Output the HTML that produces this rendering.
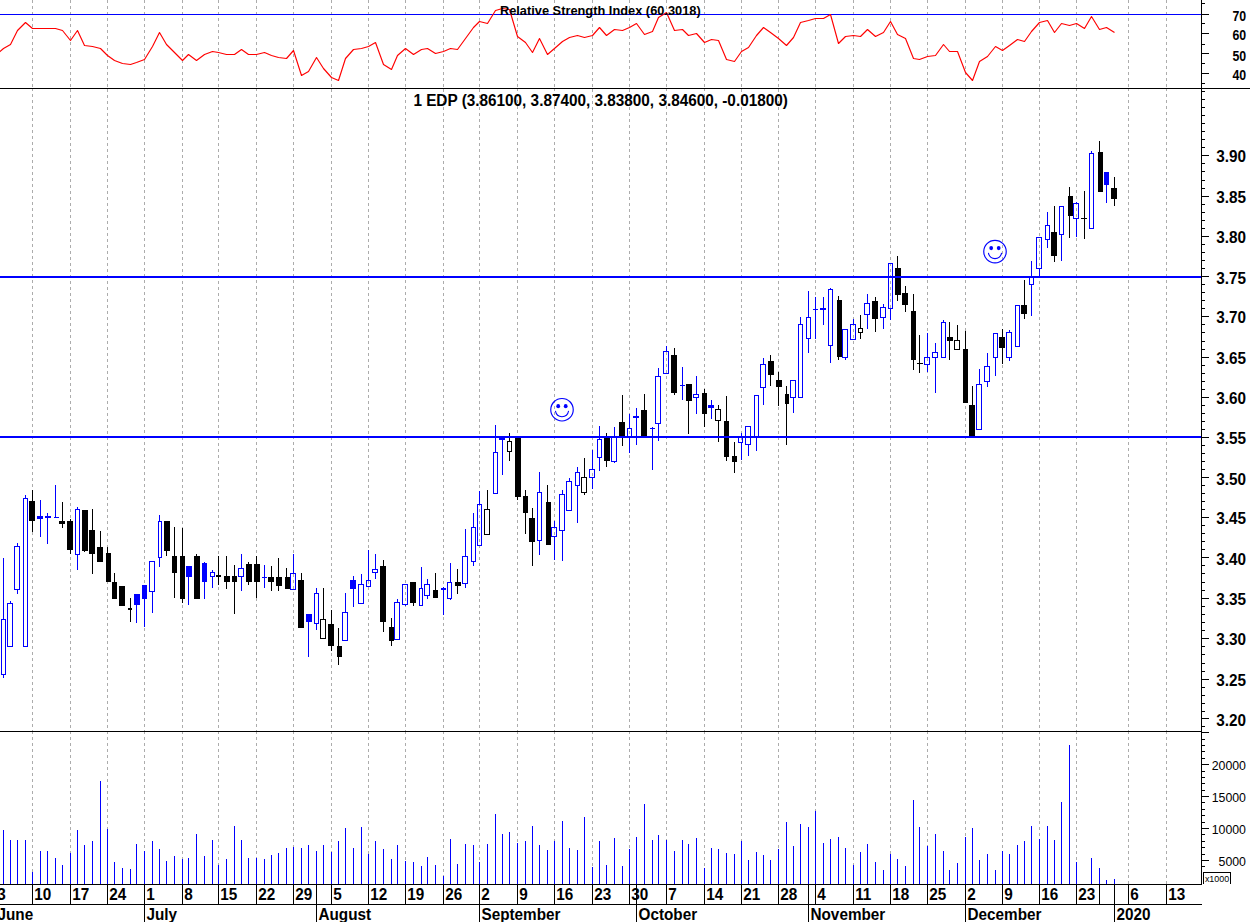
<!DOCTYPE html>
<html><head><meta charset="utf-8"><title>EDP chart</title>
<style>
html,body{margin:0;padding:0;background:#fff;}
body{width:1250px;height:922px;overflow:hidden;}
svg{display:block;font-family:"Liberation Sans",sans-serif;}
text{fill:#000;}
</style></head><body>
<svg width="1250" height="922" viewBox="0 0 1250 922">
<rect x="0" y="0" width="1250" height="922" fill="#ffffff"/>
<g shape-rendering="crispEdges">
<path d="M32.5 0V3M32.5 6V9M32.5 12V15M32.5 18V21M32.5 24V27M32.5 30V33M32.5 36V39M32.5 42V45M32.5 48V51M32.5 54V57M32.5 60V63M32.5 66V69M32.5 72V75M32.5 78V81M32.5 84V87M32.5 89V91M32.5 94V97M32.5 100V103M32.5 106V109M32.5 112V115M32.5 118V121M32.5 124V127M32.5 130V133M32.5 136V139M32.5 142V145M32.5 148V151M32.5 154V157M32.5 160V163M32.5 166V169M32.5 172V175M32.5 178V181M32.5 184V187M32.5 190V193M32.5 196V199M32.5 202V205M32.5 208V211M32.5 214V217M32.5 220V223M32.5 226V229M32.5 232V235M32.5 238V241M32.5 244V247M32.5 250V253M32.5 256V259M32.5 262V265M32.5 268V271M32.5 274V277M32.5 280V283M32.5 286V289M32.5 292V295M32.5 298V301M32.5 304V307M32.5 310V313M32.5 316V319M32.5 322V325M32.5 328V331M32.5 334V337M32.5 340V343M32.5 346V349M32.5 352V355M32.5 358V361M32.5 364V367M32.5 370V373M32.5 376V379M32.5 382V385M32.5 388V391M32.5 394V397M32.5 400V403M32.5 406V409M32.5 412V415M32.5 418V421M32.5 424V427M32.5 430V433M32.5 436V439M32.5 442V445M32.5 448V451M32.5 454V457M32.5 460V463M32.5 466V469M32.5 472V475M32.5 478V481M32.5 484V487M32.5 490V493M32.5 496V499M32.5 502V505M32.5 508V511M32.5 514V517M32.5 520V523M32.5 526V529M32.5 532V535M32.5 538V541M32.5 544V547M32.5 550V553M32.5 556V559M32.5 562V565M32.5 568V571M32.5 574V577M32.5 580V583M32.5 586V589M32.5 592V595M32.5 598V601M32.5 604V607M32.5 610V613M32.5 616V619M32.5 622V625M32.5 628V631M32.5 634V637M32.5 640V643M32.5 646V649M32.5 652V655M32.5 658V661M32.5 664V667M32.5 670V673M32.5 676V679M32.5 682V685M32.5 688V691M32.5 694V697M32.5 700V703M32.5 706V709M32.5 712V715M32.5 718V721M32.5 724V727M32.5 730V731M32.5 732V734M32.5 737V740M32.5 743V746M32.5 749V752M32.5 755V758M32.5 761V764M32.5 767V770M32.5 773V776M32.5 779V782M32.5 785V788M32.5 791V794M32.5 797V800M32.5 803V806M32.5 809V812M32.5 815V818M32.5 821V824M32.5 827V830M32.5 833V836M32.5 839V842M32.5 845V848M32.5 851V854M32.5 857V860M32.5 863V866M32.5 869V872M32.5 875V878M32.5 881V884M70.5 0V3M70.5 6V9M70.5 12V15M70.5 18V21M70.5 24V27M70.5 30V33M70.5 36V39M70.5 42V45M70.5 48V51M70.5 54V57M70.5 60V63M70.5 66V69M70.5 72V75M70.5 78V81M70.5 84V87M70.5 89V92M70.5 95V98M70.5 101V104M70.5 107V110M70.5 113V116M70.5 119V122M70.5 125V128M70.5 131V134M70.5 137V140M70.5 143V146M70.5 149V152M70.5 155V158M70.5 161V164M70.5 167V170M70.5 173V176M70.5 179V182M70.5 185V188M70.5 191V194M70.5 197V200M70.5 203V206M70.5 209V212M70.5 215V218M70.5 221V224M70.5 227V230M70.5 233V236M70.5 239V242M70.5 245V248M70.5 251V254M70.5 257V260M70.5 263V266M70.5 269V272M70.5 275V278M70.5 281V284M70.5 287V290M70.5 293V296M70.5 299V302M70.5 305V308M70.5 311V314M70.5 317V320M70.5 323V326M70.5 329V332M70.5 335V338M70.5 341V344M70.5 347V350M70.5 353V356M70.5 359V362M70.5 365V368M70.5 371V374M70.5 377V380M70.5 383V386M70.5 389V392M70.5 395V398M70.5 401V404M70.5 407V410M70.5 413V416M70.5 419V422M70.5 425V428M70.5 431V434M70.5 437V440M70.5 443V446M70.5 449V452M70.5 455V458M70.5 461V464M70.5 467V470M70.5 473V476M70.5 479V482M70.5 485V488M70.5 491V494M70.5 497V500M70.5 503V506M70.5 509V512M70.5 515V518M70.5 521V524M70.5 527V530M70.5 533V536M70.5 539V542M70.5 545V548M70.5 551V554M70.5 557V560M70.5 563V566M70.5 569V572M70.5 575V578M70.5 581V584M70.5 587V590M70.5 593V596M70.5 599V602M70.5 605V608M70.5 611V614M70.5 617V620M70.5 623V626M70.5 629V632M70.5 635V638M70.5 641V644M70.5 647V650M70.5 653V656M70.5 659V662M70.5 665V668M70.5 671V674M70.5 677V680M70.5 683V686M70.5 689V692M70.5 695V698M70.5 701V704M70.5 707V710M70.5 713V716M70.5 719V722M70.5 725V728M70.5 732V734M70.5 737V740M70.5 743V746M70.5 749V752M70.5 755V758M70.5 761V764M70.5 767V770M70.5 773V776M70.5 779V782M70.5 785V788M70.5 791V794M70.5 797V800M70.5 803V806M70.5 809V812M70.5 815V818M70.5 821V824M70.5 827V830M70.5 833V836M70.5 839V842M70.5 845V848M70.5 851V854M70.5 857V860M70.5 863V866M70.5 869V872M70.5 875V878M70.5 881V884M107.5 0V3M107.5 6V9M107.5 12V15M107.5 18V21M107.5 24V27M107.5 30V33M107.5 36V39M107.5 42V45M107.5 48V51M107.5 54V57M107.5 60V63M107.5 66V69M107.5 72V75M107.5 78V81M107.5 84V87M107.5 89V92M107.5 95V98M107.5 101V104M107.5 107V110M107.5 113V116M107.5 119V122M107.5 125V128M107.5 131V134M107.5 137V140M107.5 143V146M107.5 149V152M107.5 155V158M107.5 161V164M107.5 167V170M107.5 173V176M107.5 179V182M107.5 185V188M107.5 191V194M107.5 197V200M107.5 203V206M107.5 209V212M107.5 215V218M107.5 221V224M107.5 227V230M107.5 233V236M107.5 239V242M107.5 245V248M107.5 251V254M107.5 257V260M107.5 263V266M107.5 269V272M107.5 275V278M107.5 281V284M107.5 287V290M107.5 293V296M107.5 299V302M107.5 305V308M107.5 311V314M107.5 317V320M107.5 323V326M107.5 329V332M107.5 335V338M107.5 341V344M107.5 347V350M107.5 353V356M107.5 359V362M107.5 365V368M107.5 371V374M107.5 377V380M107.5 383V386M107.5 389V392M107.5 395V398M107.5 401V404M107.5 407V410M107.5 413V416M107.5 419V422M107.5 425V428M107.5 431V434M107.5 437V440M107.5 443V446M107.5 449V452M107.5 455V458M107.5 461V464M107.5 467V470M107.5 473V476M107.5 479V482M107.5 485V488M107.5 491V494M107.5 497V500M107.5 503V506M107.5 509V512M107.5 515V518M107.5 521V524M107.5 527V530M107.5 533V536M107.5 539V542M107.5 545V548M107.5 551V554M107.5 557V560M107.5 563V566M107.5 569V572M107.5 575V578M107.5 581V584M107.5 587V590M107.5 593V596M107.5 599V602M107.5 605V608M107.5 611V614M107.5 617V620M107.5 623V626M107.5 629V632M107.5 635V638M107.5 641V644M107.5 647V650M107.5 653V656M107.5 659V662M107.5 665V668M107.5 671V674M107.5 677V680M107.5 683V686M107.5 689V692M107.5 695V698M107.5 701V704M107.5 707V710M107.5 713V716M107.5 719V722M107.5 725V728M107.5 732V734M107.5 737V740M107.5 743V746M107.5 749V752M107.5 755V758M107.5 761V764M107.5 767V770M107.5 773V776M107.5 779V782M107.5 785V788M107.5 791V794M107.5 797V800M107.5 803V806M107.5 809V812M107.5 815V818M107.5 821V824M107.5 827V830M107.5 833V836M107.5 839V842M107.5 845V848M107.5 851V854M107.5 857V860M107.5 863V866M107.5 869V872M107.5 875V878M107.5 881V884M144.5 0V3M144.5 6V9M144.5 12V15M144.5 18V21M144.5 24V27M144.5 30V33M144.5 36V39M144.5 42V45M144.5 48V51M144.5 54V57M144.5 60V63M144.5 66V69M144.5 72V75M144.5 78V81M144.5 84V87M144.5 89V91M144.5 94V97M144.5 100V103M144.5 106V109M144.5 112V115M144.5 118V121M144.5 124V127M144.5 130V133M144.5 136V139M144.5 142V145M144.5 148V151M144.5 154V157M144.5 160V163M144.5 166V169M144.5 172V175M144.5 178V181M144.5 184V187M144.5 190V193M144.5 196V199M144.5 202V205M144.5 208V211M144.5 214V217M144.5 220V223M144.5 226V229M144.5 232V235M144.5 238V241M144.5 244V247M144.5 250V253M144.5 256V259M144.5 262V265M144.5 268V271M144.5 274V277M144.5 280V283M144.5 286V289M144.5 292V295M144.5 298V301M144.5 304V307M144.5 310V313M144.5 316V319M144.5 322V325M144.5 328V331M144.5 334V337M144.5 340V343M144.5 346V349M144.5 352V355M144.5 358V361M144.5 364V367M144.5 370V373M144.5 376V379M144.5 382V385M144.5 388V391M144.5 394V397M144.5 400V403M144.5 406V409M144.5 412V415M144.5 418V421M144.5 424V427M144.5 430V433M144.5 436V439M144.5 442V445M144.5 448V451M144.5 454V457M144.5 460V463M144.5 466V469M144.5 472V475M144.5 478V481M144.5 484V487M144.5 490V493M144.5 496V499M144.5 502V505M144.5 508V511M144.5 514V517M144.5 520V523M144.5 526V529M144.5 532V535M144.5 538V541M144.5 544V547M144.5 550V553M144.5 556V559M144.5 562V565M144.5 568V571M144.5 574V577M144.5 580V583M144.5 586V589M144.5 592V595M144.5 598V601M144.5 604V607M144.5 610V613M144.5 616V619M144.5 622V625M144.5 628V631M144.5 634V637M144.5 640V643M144.5 646V649M144.5 652V655M144.5 658V661M144.5 664V667M144.5 670V673M144.5 676V679M144.5 682V685M144.5 688V691M144.5 694V697M144.5 700V703M144.5 706V709M144.5 712V715M144.5 718V721M144.5 724V727M144.5 730V731M144.5 732V734M144.5 737V740M144.5 743V746M144.5 749V752M144.5 755V758M144.5 761V764M144.5 767V770M144.5 773V776M144.5 779V782M144.5 785V788M144.5 791V794M144.5 797V800M144.5 803V806M144.5 809V812M144.5 815V818M144.5 821V824M144.5 827V830M144.5 833V836M144.5 839V842M144.5 845V848M144.5 851V854M144.5 857V860M144.5 863V866M144.5 869V872M144.5 875V878M144.5 881V884M182.5 0V3M182.5 6V9M182.5 12V15M182.5 18V21M182.5 24V27M182.5 30V33M182.5 36V39M182.5 42V45M182.5 48V51M182.5 54V57M182.5 60V63M182.5 66V69M182.5 72V75M182.5 78V81M182.5 84V87M182.5 89V92M182.5 95V98M182.5 101V104M182.5 107V110M182.5 113V116M182.5 119V122M182.5 125V128M182.5 131V134M182.5 137V140M182.5 143V146M182.5 149V152M182.5 155V158M182.5 161V164M182.5 167V170M182.5 173V176M182.5 179V182M182.5 185V188M182.5 191V194M182.5 197V200M182.5 203V206M182.5 209V212M182.5 215V218M182.5 221V224M182.5 227V230M182.5 233V236M182.5 239V242M182.5 245V248M182.5 251V254M182.5 257V260M182.5 263V266M182.5 269V272M182.5 275V278M182.5 281V284M182.5 287V290M182.5 293V296M182.5 299V302M182.5 305V308M182.5 311V314M182.5 317V320M182.5 323V326M182.5 329V332M182.5 335V338M182.5 341V344M182.5 347V350M182.5 353V356M182.5 359V362M182.5 365V368M182.5 371V374M182.5 377V380M182.5 383V386M182.5 389V392M182.5 395V398M182.5 401V404M182.5 407V410M182.5 413V416M182.5 419V422M182.5 425V428M182.5 431V434M182.5 437V440M182.5 443V446M182.5 449V452M182.5 455V458M182.5 461V464M182.5 467V470M182.5 473V476M182.5 479V482M182.5 485V488M182.5 491V494M182.5 497V500M182.5 503V506M182.5 509V512M182.5 515V518M182.5 521V524M182.5 527V530M182.5 533V536M182.5 539V542M182.5 545V548M182.5 551V554M182.5 557V560M182.5 563V566M182.5 569V572M182.5 575V578M182.5 581V584M182.5 587V590M182.5 593V596M182.5 599V602M182.5 605V608M182.5 611V614M182.5 617V620M182.5 623V626M182.5 629V632M182.5 635V638M182.5 641V644M182.5 647V650M182.5 653V656M182.5 659V662M182.5 665V668M182.5 671V674M182.5 677V680M182.5 683V686M182.5 689V692M182.5 695V698M182.5 701V704M182.5 707V710M182.5 713V716M182.5 719V722M182.5 725V728M182.5 732V734M182.5 737V740M182.5 743V746M182.5 749V752M182.5 755V758M182.5 761V764M182.5 767V770M182.5 773V776M182.5 779V782M182.5 785V788M182.5 791V794M182.5 797V800M182.5 803V806M182.5 809V812M182.5 815V818M182.5 821V824M182.5 827V830M182.5 833V836M182.5 839V842M182.5 845V848M182.5 851V854M182.5 857V860M182.5 863V866M182.5 869V872M182.5 875V878M182.5 881V884M218.5 0V3M218.5 6V9M218.5 12V15M218.5 18V21M218.5 24V27M218.5 30V33M218.5 36V39M218.5 42V45M218.5 48V51M218.5 54V57M218.5 60V63M218.5 66V69M218.5 72V75M218.5 78V81M218.5 84V87M218.5 89V92M218.5 95V98M218.5 101V104M218.5 107V110M218.5 113V116M218.5 119V122M218.5 125V128M218.5 131V134M218.5 137V140M218.5 143V146M218.5 149V152M218.5 155V158M218.5 161V164M218.5 167V170M218.5 173V176M218.5 179V182M218.5 185V188M218.5 191V194M218.5 197V200M218.5 203V206M218.5 209V212M218.5 215V218M218.5 221V224M218.5 227V230M218.5 233V236M218.5 239V242M218.5 245V248M218.5 251V254M218.5 257V260M218.5 263V266M218.5 269V272M218.5 275V278M218.5 281V284M218.5 287V290M218.5 293V296M218.5 299V302M218.5 305V308M218.5 311V314M218.5 317V320M218.5 323V326M218.5 329V332M218.5 335V338M218.5 341V344M218.5 347V350M218.5 353V356M218.5 359V362M218.5 365V368M218.5 371V374M218.5 377V380M218.5 383V386M218.5 389V392M218.5 395V398M218.5 401V404M218.5 407V410M218.5 413V416M218.5 419V422M218.5 425V428M218.5 431V434M218.5 437V440M218.5 443V446M218.5 449V452M218.5 455V458M218.5 461V464M218.5 467V470M218.5 473V476M218.5 479V482M218.5 485V488M218.5 491V494M218.5 497V500M218.5 503V506M218.5 509V512M218.5 515V518M218.5 521V524M218.5 527V530M218.5 533V536M218.5 539V542M218.5 545V548M218.5 551V554M218.5 557V560M218.5 563V566M218.5 569V572M218.5 575V578M218.5 581V584M218.5 587V590M218.5 593V596M218.5 599V602M218.5 605V608M218.5 611V614M218.5 617V620M218.5 623V626M218.5 629V632M218.5 635V638M218.5 641V644M218.5 647V650M218.5 653V656M218.5 659V662M218.5 665V668M218.5 671V674M218.5 677V680M218.5 683V686M218.5 689V692M218.5 695V698M218.5 701V704M218.5 707V710M218.5 713V716M218.5 719V722M218.5 725V728M218.5 732V734M218.5 737V740M218.5 743V746M218.5 749V752M218.5 755V758M218.5 761V764M218.5 767V770M218.5 773V776M218.5 779V782M218.5 785V788M218.5 791V794M218.5 797V800M218.5 803V806M218.5 809V812M218.5 815V818M218.5 821V824M218.5 827V830M218.5 833V836M218.5 839V842M218.5 845V848M218.5 851V854M218.5 857V860M218.5 863V866M218.5 869V872M218.5 875V878M218.5 881V884M256.5 0V3M256.5 6V9M256.5 12V15M256.5 18V21M256.5 24V27M256.5 30V33M256.5 36V39M256.5 42V45M256.5 48V51M256.5 54V57M256.5 60V63M256.5 66V69M256.5 72V75M256.5 78V81M256.5 84V87M256.5 89V91M256.5 94V97M256.5 100V103M256.5 106V109M256.5 112V115M256.5 118V121M256.5 124V127M256.5 130V133M256.5 136V139M256.5 142V145M256.5 148V151M256.5 154V157M256.5 160V163M256.5 166V169M256.5 172V175M256.5 178V181M256.5 184V187M256.5 190V193M256.5 196V199M256.5 202V205M256.5 208V211M256.5 214V217M256.5 220V223M256.5 226V229M256.5 232V235M256.5 238V241M256.5 244V247M256.5 250V253M256.5 256V259M256.5 262V265M256.5 268V271M256.5 274V277M256.5 280V283M256.5 286V289M256.5 292V295M256.5 298V301M256.5 304V307M256.5 310V313M256.5 316V319M256.5 322V325M256.5 328V331M256.5 334V337M256.5 340V343M256.5 346V349M256.5 352V355M256.5 358V361M256.5 364V367M256.5 370V373M256.5 376V379M256.5 382V385M256.5 388V391M256.5 394V397M256.5 400V403M256.5 406V409M256.5 412V415M256.5 418V421M256.5 424V427M256.5 430V433M256.5 436V439M256.5 442V445M256.5 448V451M256.5 454V457M256.5 460V463M256.5 466V469M256.5 472V475M256.5 478V481M256.5 484V487M256.5 490V493M256.5 496V499M256.5 502V505M256.5 508V511M256.5 514V517M256.5 520V523M256.5 526V529M256.5 532V535M256.5 538V541M256.5 544V547M256.5 550V553M256.5 556V559M256.5 562V565M256.5 568V571M256.5 574V577M256.5 580V583M256.5 586V589M256.5 592V595M256.5 598V601M256.5 604V607M256.5 610V613M256.5 616V619M256.5 622V625M256.5 628V631M256.5 634V637M256.5 640V643M256.5 646V649M256.5 652V655M256.5 658V661M256.5 664V667M256.5 670V673M256.5 676V679M256.5 682V685M256.5 688V691M256.5 694V697M256.5 700V703M256.5 706V709M256.5 712V715M256.5 718V721M256.5 724V727M256.5 730V731M256.5 732V734M256.5 737V740M256.5 743V746M256.5 749V752M256.5 755V758M256.5 761V764M256.5 767V770M256.5 773V776M256.5 779V782M256.5 785V788M256.5 791V794M256.5 797V800M256.5 803V806M256.5 809V812M256.5 815V818M256.5 821V824M256.5 827V830M256.5 833V836M256.5 839V842M256.5 845V848M256.5 851V854M256.5 857V860M256.5 863V866M256.5 869V872M256.5 875V878M256.5 881V884M293.5 0V3M293.5 6V9M293.5 12V15M293.5 18V21M293.5 24V27M293.5 30V33M293.5 36V39M293.5 42V45M293.5 48V51M293.5 54V57M293.5 60V63M293.5 66V69M293.5 72V75M293.5 78V81M293.5 84V87M293.5 89V91M293.5 94V97M293.5 100V103M293.5 106V109M293.5 112V115M293.5 118V121M293.5 124V127M293.5 130V133M293.5 136V139M293.5 142V145M293.5 148V151M293.5 154V157M293.5 160V163M293.5 166V169M293.5 172V175M293.5 178V181M293.5 184V187M293.5 190V193M293.5 196V199M293.5 202V205M293.5 208V211M293.5 214V217M293.5 220V223M293.5 226V229M293.5 232V235M293.5 238V241M293.5 244V247M293.5 250V253M293.5 256V259M293.5 262V265M293.5 268V271M293.5 274V277M293.5 280V283M293.5 286V289M293.5 292V295M293.5 298V301M293.5 304V307M293.5 310V313M293.5 316V319M293.5 322V325M293.5 328V331M293.5 334V337M293.5 340V343M293.5 346V349M293.5 352V355M293.5 358V361M293.5 364V367M293.5 370V373M293.5 376V379M293.5 382V385M293.5 388V391M293.5 394V397M293.5 400V403M293.5 406V409M293.5 412V415M293.5 418V421M293.5 424V427M293.5 430V433M293.5 436V439M293.5 442V445M293.5 448V451M293.5 454V457M293.5 460V463M293.5 466V469M293.5 472V475M293.5 478V481M293.5 484V487M293.5 490V493M293.5 496V499M293.5 502V505M293.5 508V511M293.5 514V517M293.5 520V523M293.5 526V529M293.5 532V535M293.5 538V541M293.5 544V547M293.5 550V553M293.5 556V559M293.5 562V565M293.5 568V571M293.5 574V577M293.5 580V583M293.5 586V589M293.5 592V595M293.5 598V601M293.5 604V607M293.5 610V613M293.5 616V619M293.5 622V625M293.5 628V631M293.5 634V637M293.5 640V643M293.5 646V649M293.5 652V655M293.5 658V661M293.5 664V667M293.5 670V673M293.5 676V679M293.5 682V685M293.5 688V691M293.5 694V697M293.5 700V703M293.5 706V709M293.5 712V715M293.5 718V721M293.5 724V727M293.5 730V731M293.5 732V734M293.5 737V740M293.5 743V746M293.5 749V752M293.5 755V758M293.5 761V764M293.5 767V770M293.5 773V776M293.5 779V782M293.5 785V788M293.5 791V794M293.5 797V800M293.5 803V806M293.5 809V812M293.5 815V818M293.5 821V824M293.5 827V830M293.5 833V836M293.5 839V842M293.5 845V848M293.5 851V854M293.5 857V860M293.5 863V866M293.5 869V872M293.5 875V878M293.5 881V884M331.5 0V3M331.5 6V9M331.5 12V15M331.5 18V21M331.5 24V27M331.5 30V33M331.5 36V39M331.5 42V45M331.5 48V51M331.5 54V57M331.5 60V63M331.5 66V69M331.5 72V75M331.5 78V81M331.5 84V87M331.5 89V92M331.5 95V98M331.5 101V104M331.5 107V110M331.5 113V116M331.5 119V122M331.5 125V128M331.5 131V134M331.5 137V140M331.5 143V146M331.5 149V152M331.5 155V158M331.5 161V164M331.5 167V170M331.5 173V176M331.5 179V182M331.5 185V188M331.5 191V194M331.5 197V200M331.5 203V206M331.5 209V212M331.5 215V218M331.5 221V224M331.5 227V230M331.5 233V236M331.5 239V242M331.5 245V248M331.5 251V254M331.5 257V260M331.5 263V266M331.5 269V272M331.5 275V278M331.5 281V284M331.5 287V290M331.5 293V296M331.5 299V302M331.5 305V308M331.5 311V314M331.5 317V320M331.5 323V326M331.5 329V332M331.5 335V338M331.5 341V344M331.5 347V350M331.5 353V356M331.5 359V362M331.5 365V368M331.5 371V374M331.5 377V380M331.5 383V386M331.5 389V392M331.5 395V398M331.5 401V404M331.5 407V410M331.5 413V416M331.5 419V422M331.5 425V428M331.5 431V434M331.5 437V440M331.5 443V446M331.5 449V452M331.5 455V458M331.5 461V464M331.5 467V470M331.5 473V476M331.5 479V482M331.5 485V488M331.5 491V494M331.5 497V500M331.5 503V506M331.5 509V512M331.5 515V518M331.5 521V524M331.5 527V530M331.5 533V536M331.5 539V542M331.5 545V548M331.5 551V554M331.5 557V560M331.5 563V566M331.5 569V572M331.5 575V578M331.5 581V584M331.5 587V590M331.5 593V596M331.5 599V602M331.5 605V608M331.5 611V614M331.5 617V620M331.5 623V626M331.5 629V632M331.5 635V638M331.5 641V644M331.5 647V650M331.5 653V656M331.5 659V662M331.5 665V668M331.5 671V674M331.5 677V680M331.5 683V686M331.5 689V692M331.5 695V698M331.5 701V704M331.5 707V710M331.5 713V716M331.5 719V722M331.5 725V728M331.5 732V734M331.5 737V740M331.5 743V746M331.5 749V752M331.5 755V758M331.5 761V764M331.5 767V770M331.5 773V776M331.5 779V782M331.5 785V788M331.5 791V794M331.5 797V800M331.5 803V806M331.5 809V812M331.5 815V818M331.5 821V824M331.5 827V830M331.5 833V836M331.5 839V842M331.5 845V848M331.5 851V854M331.5 857V860M331.5 863V866M331.5 869V872M331.5 875V878M331.5 881V884M368.5 0V3M368.5 6V9M368.5 12V15M368.5 18V21M368.5 24V27M368.5 30V33M368.5 36V39M368.5 42V45M368.5 48V51M368.5 54V57M368.5 60V63M368.5 66V69M368.5 72V75M368.5 78V81M368.5 84V87M368.5 89V92M368.5 95V98M368.5 101V104M368.5 107V110M368.5 113V116M368.5 119V122M368.5 125V128M368.5 131V134M368.5 137V140M368.5 143V146M368.5 149V152M368.5 155V158M368.5 161V164M368.5 167V170M368.5 173V176M368.5 179V182M368.5 185V188M368.5 191V194M368.5 197V200M368.5 203V206M368.5 209V212M368.5 215V218M368.5 221V224M368.5 227V230M368.5 233V236M368.5 239V242M368.5 245V248M368.5 251V254M368.5 257V260M368.5 263V266M368.5 269V272M368.5 275V278M368.5 281V284M368.5 287V290M368.5 293V296M368.5 299V302M368.5 305V308M368.5 311V314M368.5 317V320M368.5 323V326M368.5 329V332M368.5 335V338M368.5 341V344M368.5 347V350M368.5 353V356M368.5 359V362M368.5 365V368M368.5 371V374M368.5 377V380M368.5 383V386M368.5 389V392M368.5 395V398M368.5 401V404M368.5 407V410M368.5 413V416M368.5 419V422M368.5 425V428M368.5 431V434M368.5 437V440M368.5 443V446M368.5 449V452M368.5 455V458M368.5 461V464M368.5 467V470M368.5 473V476M368.5 479V482M368.5 485V488M368.5 491V494M368.5 497V500M368.5 503V506M368.5 509V512M368.5 515V518M368.5 521V524M368.5 527V530M368.5 533V536M368.5 539V542M368.5 545V548M368.5 551V554M368.5 557V560M368.5 563V566M368.5 569V572M368.5 575V578M368.5 581V584M368.5 587V590M368.5 593V596M368.5 599V602M368.5 605V608M368.5 611V614M368.5 617V620M368.5 623V626M368.5 629V632M368.5 635V638M368.5 641V644M368.5 647V650M368.5 653V656M368.5 659V662M368.5 665V668M368.5 671V674M368.5 677V680M368.5 683V686M368.5 689V692M368.5 695V698M368.5 701V704M368.5 707V710M368.5 713V716M368.5 719V722M368.5 725V728M368.5 732V734M368.5 737V740M368.5 743V746M368.5 749V752M368.5 755V758M368.5 761V764M368.5 767V770M368.5 773V776M368.5 779V782M368.5 785V788M368.5 791V794M368.5 797V800M368.5 803V806M368.5 809V812M368.5 815V818M368.5 821V824M368.5 827V830M368.5 833V836M368.5 839V842M368.5 845V848M368.5 851V854M368.5 857V860M368.5 863V866M368.5 869V872M368.5 875V878M368.5 881V884M405.5 0V3M405.5 6V9M405.5 12V15M405.5 18V21M405.5 24V27M405.5 30V33M405.5 36V39M405.5 42V45M405.5 48V51M405.5 54V57M405.5 60V63M405.5 66V69M405.5 72V75M405.5 78V81M405.5 84V87M405.5 89V91M405.5 94V97M405.5 100V103M405.5 106V109M405.5 112V115M405.5 118V121M405.5 124V127M405.5 130V133M405.5 136V139M405.5 142V145M405.5 148V151M405.5 154V157M405.5 160V163M405.5 166V169M405.5 172V175M405.5 178V181M405.5 184V187M405.5 190V193M405.5 196V199M405.5 202V205M405.5 208V211M405.5 214V217M405.5 220V223M405.5 226V229M405.5 232V235M405.5 238V241M405.5 244V247M405.5 250V253M405.5 256V259M405.5 262V265M405.5 268V271M405.5 274V277M405.5 280V283M405.5 286V289M405.5 292V295M405.5 298V301M405.5 304V307M405.5 310V313M405.5 316V319M405.5 322V325M405.5 328V331M405.5 334V337M405.5 340V343M405.5 346V349M405.5 352V355M405.5 358V361M405.5 364V367M405.5 370V373M405.5 376V379M405.5 382V385M405.5 388V391M405.5 394V397M405.5 400V403M405.5 406V409M405.5 412V415M405.5 418V421M405.5 424V427M405.5 430V433M405.5 436V439M405.5 442V445M405.5 448V451M405.5 454V457M405.5 460V463M405.5 466V469M405.5 472V475M405.5 478V481M405.5 484V487M405.5 490V493M405.5 496V499M405.5 502V505M405.5 508V511M405.5 514V517M405.5 520V523M405.5 526V529M405.5 532V535M405.5 538V541M405.5 544V547M405.5 550V553M405.5 556V559M405.5 562V565M405.5 568V571M405.5 574V577M405.5 580V583M405.5 586V589M405.5 592V595M405.5 598V601M405.5 604V607M405.5 610V613M405.5 616V619M405.5 622V625M405.5 628V631M405.5 634V637M405.5 640V643M405.5 646V649M405.5 652V655M405.5 658V661M405.5 664V667M405.5 670V673M405.5 676V679M405.5 682V685M405.5 688V691M405.5 694V697M405.5 700V703M405.5 706V709M405.5 712V715M405.5 718V721M405.5 724V727M405.5 730V731M405.5 732V734M405.5 737V740M405.5 743V746M405.5 749V752M405.5 755V758M405.5 761V764M405.5 767V770M405.5 773V776M405.5 779V782M405.5 785V788M405.5 791V794M405.5 797V800M405.5 803V806M405.5 809V812M405.5 815V818M405.5 821V824M405.5 827V830M405.5 833V836M405.5 839V842M405.5 845V848M405.5 851V854M405.5 857V860M405.5 863V866M405.5 869V872M405.5 875V878M405.5 881V884M443.5 0V3M443.5 6V9M443.5 12V15M443.5 18V21M443.5 24V27M443.5 30V33M443.5 36V39M443.5 42V45M443.5 48V51M443.5 54V57M443.5 60V63M443.5 66V69M443.5 72V75M443.5 78V81M443.5 84V87M443.5 89V92M443.5 95V98M443.5 101V104M443.5 107V110M443.5 113V116M443.5 119V122M443.5 125V128M443.5 131V134M443.5 137V140M443.5 143V146M443.5 149V152M443.5 155V158M443.5 161V164M443.5 167V170M443.5 173V176M443.5 179V182M443.5 185V188M443.5 191V194M443.5 197V200M443.5 203V206M443.5 209V212M443.5 215V218M443.5 221V224M443.5 227V230M443.5 233V236M443.5 239V242M443.5 245V248M443.5 251V254M443.5 257V260M443.5 263V266M443.5 269V272M443.5 275V278M443.5 281V284M443.5 287V290M443.5 293V296M443.5 299V302M443.5 305V308M443.5 311V314M443.5 317V320M443.5 323V326M443.5 329V332M443.5 335V338M443.5 341V344M443.5 347V350M443.5 353V356M443.5 359V362M443.5 365V368M443.5 371V374M443.5 377V380M443.5 383V386M443.5 389V392M443.5 395V398M443.5 401V404M443.5 407V410M443.5 413V416M443.5 419V422M443.5 425V428M443.5 431V434M443.5 437V440M443.5 443V446M443.5 449V452M443.5 455V458M443.5 461V464M443.5 467V470M443.5 473V476M443.5 479V482M443.5 485V488M443.5 491V494M443.5 497V500M443.5 503V506M443.5 509V512M443.5 515V518M443.5 521V524M443.5 527V530M443.5 533V536M443.5 539V542M443.5 545V548M443.5 551V554M443.5 557V560M443.5 563V566M443.5 569V572M443.5 575V578M443.5 581V584M443.5 587V590M443.5 593V596M443.5 599V602M443.5 605V608M443.5 611V614M443.5 617V620M443.5 623V626M443.5 629V632M443.5 635V638M443.5 641V644M443.5 647V650M443.5 653V656M443.5 659V662M443.5 665V668M443.5 671V674M443.5 677V680M443.5 683V686M443.5 689V692M443.5 695V698M443.5 701V704M443.5 707V710M443.5 713V716M443.5 719V722M443.5 725V728M443.5 732V734M443.5 737V740M443.5 743V746M443.5 749V752M443.5 755V758M443.5 761V764M443.5 767V770M443.5 773V776M443.5 779V782M443.5 785V788M443.5 791V794M443.5 797V800M443.5 803V806M443.5 809V812M443.5 815V818M443.5 821V824M443.5 827V830M443.5 833V836M443.5 839V842M443.5 845V848M443.5 851V854M443.5 857V860M443.5 863V866M443.5 869V872M443.5 875V878M443.5 881V884M479.5 0V3M479.5 6V9M479.5 12V15M479.5 18V21M479.5 24V27M479.5 30V33M479.5 36V39M479.5 42V45M479.5 48V51M479.5 54V57M479.5 60V63M479.5 66V69M479.5 72V75M479.5 78V81M479.5 84V87M479.5 89V92M479.5 95V98M479.5 101V104M479.5 107V110M479.5 113V116M479.5 119V122M479.5 125V128M479.5 131V134M479.5 137V140M479.5 143V146M479.5 149V152M479.5 155V158M479.5 161V164M479.5 167V170M479.5 173V176M479.5 179V182M479.5 185V188M479.5 191V194M479.5 197V200M479.5 203V206M479.5 209V212M479.5 215V218M479.5 221V224M479.5 227V230M479.5 233V236M479.5 239V242M479.5 245V248M479.5 251V254M479.5 257V260M479.5 263V266M479.5 269V272M479.5 275V278M479.5 281V284M479.5 287V290M479.5 293V296M479.5 299V302M479.5 305V308M479.5 311V314M479.5 317V320M479.5 323V326M479.5 329V332M479.5 335V338M479.5 341V344M479.5 347V350M479.5 353V356M479.5 359V362M479.5 365V368M479.5 371V374M479.5 377V380M479.5 383V386M479.5 389V392M479.5 395V398M479.5 401V404M479.5 407V410M479.5 413V416M479.5 419V422M479.5 425V428M479.5 431V434M479.5 437V440M479.5 443V446M479.5 449V452M479.5 455V458M479.5 461V464M479.5 467V470M479.5 473V476M479.5 479V482M479.5 485V488M479.5 491V494M479.5 497V500M479.5 503V506M479.5 509V512M479.5 515V518M479.5 521V524M479.5 527V530M479.5 533V536M479.5 539V542M479.5 545V548M479.5 551V554M479.5 557V560M479.5 563V566M479.5 569V572M479.5 575V578M479.5 581V584M479.5 587V590M479.5 593V596M479.5 599V602M479.5 605V608M479.5 611V614M479.5 617V620M479.5 623V626M479.5 629V632M479.5 635V638M479.5 641V644M479.5 647V650M479.5 653V656M479.5 659V662M479.5 665V668M479.5 671V674M479.5 677V680M479.5 683V686M479.5 689V692M479.5 695V698M479.5 701V704M479.5 707V710M479.5 713V716M479.5 719V722M479.5 725V728M479.5 732V734M479.5 737V740M479.5 743V746M479.5 749V752M479.5 755V758M479.5 761V764M479.5 767V770M479.5 773V776M479.5 779V782M479.5 785V788M479.5 791V794M479.5 797V800M479.5 803V806M479.5 809V812M479.5 815V818M479.5 821V824M479.5 827V830M479.5 833V836M479.5 839V842M479.5 845V848M479.5 851V854M479.5 857V860M479.5 863V866M479.5 869V872M479.5 875V878M479.5 881V884M517.5 0V3M517.5 6V9M517.5 12V15M517.5 18V21M517.5 24V27M517.5 30V33M517.5 36V39M517.5 42V45M517.5 48V51M517.5 54V57M517.5 60V63M517.5 66V69M517.5 72V75M517.5 78V81M517.5 84V87M517.5 89V91M517.5 94V97M517.5 100V103M517.5 106V109M517.5 112V115M517.5 118V121M517.5 124V127M517.5 130V133M517.5 136V139M517.5 142V145M517.5 148V151M517.5 154V157M517.5 160V163M517.5 166V169M517.5 172V175M517.5 178V181M517.5 184V187M517.5 190V193M517.5 196V199M517.5 202V205M517.5 208V211M517.5 214V217M517.5 220V223M517.5 226V229M517.5 232V235M517.5 238V241M517.5 244V247M517.5 250V253M517.5 256V259M517.5 262V265M517.5 268V271M517.5 274V277M517.5 280V283M517.5 286V289M517.5 292V295M517.5 298V301M517.5 304V307M517.5 310V313M517.5 316V319M517.5 322V325M517.5 328V331M517.5 334V337M517.5 340V343M517.5 346V349M517.5 352V355M517.5 358V361M517.5 364V367M517.5 370V373M517.5 376V379M517.5 382V385M517.5 388V391M517.5 394V397M517.5 400V403M517.5 406V409M517.5 412V415M517.5 418V421M517.5 424V427M517.5 430V433M517.5 436V439M517.5 442V445M517.5 448V451M517.5 454V457M517.5 460V463M517.5 466V469M517.5 472V475M517.5 478V481M517.5 484V487M517.5 490V493M517.5 496V499M517.5 502V505M517.5 508V511M517.5 514V517M517.5 520V523M517.5 526V529M517.5 532V535M517.5 538V541M517.5 544V547M517.5 550V553M517.5 556V559M517.5 562V565M517.5 568V571M517.5 574V577M517.5 580V583M517.5 586V589M517.5 592V595M517.5 598V601M517.5 604V607M517.5 610V613M517.5 616V619M517.5 622V625M517.5 628V631M517.5 634V637M517.5 640V643M517.5 646V649M517.5 652V655M517.5 658V661M517.5 664V667M517.5 670V673M517.5 676V679M517.5 682V685M517.5 688V691M517.5 694V697M517.5 700V703M517.5 706V709M517.5 712V715M517.5 718V721M517.5 724V727M517.5 730V731M517.5 732V734M517.5 737V740M517.5 743V746M517.5 749V752M517.5 755V758M517.5 761V764M517.5 767V770M517.5 773V776M517.5 779V782M517.5 785V788M517.5 791V794M517.5 797V800M517.5 803V806M517.5 809V812M517.5 815V818M517.5 821V824M517.5 827V830M517.5 833V836M517.5 839V842M517.5 845V848M517.5 851V854M517.5 857V860M517.5 863V866M517.5 869V872M517.5 875V878M517.5 881V884M554.5 0V3M554.5 6V9M554.5 12V15M554.5 18V21M554.5 24V27M554.5 30V33M554.5 36V39M554.5 42V45M554.5 48V51M554.5 54V57M554.5 60V63M554.5 66V69M554.5 72V75M554.5 78V81M554.5 84V87M554.5 89V91M554.5 94V97M554.5 100V103M554.5 106V109M554.5 112V115M554.5 118V121M554.5 124V127M554.5 130V133M554.5 136V139M554.5 142V145M554.5 148V151M554.5 154V157M554.5 160V163M554.5 166V169M554.5 172V175M554.5 178V181M554.5 184V187M554.5 190V193M554.5 196V199M554.5 202V205M554.5 208V211M554.5 214V217M554.5 220V223M554.5 226V229M554.5 232V235M554.5 238V241M554.5 244V247M554.5 250V253M554.5 256V259M554.5 262V265M554.5 268V271M554.5 274V277M554.5 280V283M554.5 286V289M554.5 292V295M554.5 298V301M554.5 304V307M554.5 310V313M554.5 316V319M554.5 322V325M554.5 328V331M554.5 334V337M554.5 340V343M554.5 346V349M554.5 352V355M554.5 358V361M554.5 364V367M554.5 370V373M554.5 376V379M554.5 382V385M554.5 388V391M554.5 394V397M554.5 400V403M554.5 406V409M554.5 412V415M554.5 418V421M554.5 424V427M554.5 430V433M554.5 436V439M554.5 442V445M554.5 448V451M554.5 454V457M554.5 460V463M554.5 466V469M554.5 472V475M554.5 478V481M554.5 484V487M554.5 490V493M554.5 496V499M554.5 502V505M554.5 508V511M554.5 514V517M554.5 520V523M554.5 526V529M554.5 532V535M554.5 538V541M554.5 544V547M554.5 550V553M554.5 556V559M554.5 562V565M554.5 568V571M554.5 574V577M554.5 580V583M554.5 586V589M554.5 592V595M554.5 598V601M554.5 604V607M554.5 610V613M554.5 616V619M554.5 622V625M554.5 628V631M554.5 634V637M554.5 640V643M554.5 646V649M554.5 652V655M554.5 658V661M554.5 664V667M554.5 670V673M554.5 676V679M554.5 682V685M554.5 688V691M554.5 694V697M554.5 700V703M554.5 706V709M554.5 712V715M554.5 718V721M554.5 724V727M554.5 730V731M554.5 732V734M554.5 737V740M554.5 743V746M554.5 749V752M554.5 755V758M554.5 761V764M554.5 767V770M554.5 773V776M554.5 779V782M554.5 785V788M554.5 791V794M554.5 797V800M554.5 803V806M554.5 809V812M554.5 815V818M554.5 821V824M554.5 827V830M554.5 833V836M554.5 839V842M554.5 845V848M554.5 851V854M554.5 857V860M554.5 863V866M554.5 869V872M554.5 875V878M554.5 881V884M592.5 0V3M592.5 6V9M592.5 12V15M592.5 18V21M592.5 24V27M592.5 30V33M592.5 36V39M592.5 42V45M592.5 48V51M592.5 54V57M592.5 60V63M592.5 66V69M592.5 72V75M592.5 78V81M592.5 84V87M592.5 89V92M592.5 95V98M592.5 101V104M592.5 107V110M592.5 113V116M592.5 119V122M592.5 125V128M592.5 131V134M592.5 137V140M592.5 143V146M592.5 149V152M592.5 155V158M592.5 161V164M592.5 167V170M592.5 173V176M592.5 179V182M592.5 185V188M592.5 191V194M592.5 197V200M592.5 203V206M592.5 209V212M592.5 215V218M592.5 221V224M592.5 227V230M592.5 233V236M592.5 239V242M592.5 245V248M592.5 251V254M592.5 257V260M592.5 263V266M592.5 269V272M592.5 275V278M592.5 281V284M592.5 287V290M592.5 293V296M592.5 299V302M592.5 305V308M592.5 311V314M592.5 317V320M592.5 323V326M592.5 329V332M592.5 335V338M592.5 341V344M592.5 347V350M592.5 353V356M592.5 359V362M592.5 365V368M592.5 371V374M592.5 377V380M592.5 383V386M592.5 389V392M592.5 395V398M592.5 401V404M592.5 407V410M592.5 413V416M592.5 419V422M592.5 425V428M592.5 431V434M592.5 437V440M592.5 443V446M592.5 449V452M592.5 455V458M592.5 461V464M592.5 467V470M592.5 473V476M592.5 479V482M592.5 485V488M592.5 491V494M592.5 497V500M592.5 503V506M592.5 509V512M592.5 515V518M592.5 521V524M592.5 527V530M592.5 533V536M592.5 539V542M592.5 545V548M592.5 551V554M592.5 557V560M592.5 563V566M592.5 569V572M592.5 575V578M592.5 581V584M592.5 587V590M592.5 593V596M592.5 599V602M592.5 605V608M592.5 611V614M592.5 617V620M592.5 623V626M592.5 629V632M592.5 635V638M592.5 641V644M592.5 647V650M592.5 653V656M592.5 659V662M592.5 665V668M592.5 671V674M592.5 677V680M592.5 683V686M592.5 689V692M592.5 695V698M592.5 701V704M592.5 707V710M592.5 713V716M592.5 719V722M592.5 725V728M592.5 732V734M592.5 737V740M592.5 743V746M592.5 749V752M592.5 755V758M592.5 761V764M592.5 767V770M592.5 773V776M592.5 779V782M592.5 785V788M592.5 791V794M592.5 797V800M592.5 803V806M592.5 809V812M592.5 815V818M592.5 821V824M592.5 827V830M592.5 833V836M592.5 839V842M592.5 845V848M592.5 851V854M592.5 857V860M592.5 863V866M592.5 869V872M592.5 875V878M592.5 881V884M629.5 0V3M629.5 6V9M629.5 12V15M629.5 18V21M629.5 24V27M629.5 30V33M629.5 36V39M629.5 42V45M629.5 48V51M629.5 54V57M629.5 60V63M629.5 66V69M629.5 72V75M629.5 78V81M629.5 84V87M629.5 89V92M629.5 95V98M629.5 101V104M629.5 107V110M629.5 113V116M629.5 119V122M629.5 125V128M629.5 131V134M629.5 137V140M629.5 143V146M629.5 149V152M629.5 155V158M629.5 161V164M629.5 167V170M629.5 173V176M629.5 179V182M629.5 185V188M629.5 191V194M629.5 197V200M629.5 203V206M629.5 209V212M629.5 215V218M629.5 221V224M629.5 227V230M629.5 233V236M629.5 239V242M629.5 245V248M629.5 251V254M629.5 257V260M629.5 263V266M629.5 269V272M629.5 275V278M629.5 281V284M629.5 287V290M629.5 293V296M629.5 299V302M629.5 305V308M629.5 311V314M629.5 317V320M629.5 323V326M629.5 329V332M629.5 335V338M629.5 341V344M629.5 347V350M629.5 353V356M629.5 359V362M629.5 365V368M629.5 371V374M629.5 377V380M629.5 383V386M629.5 389V392M629.5 395V398M629.5 401V404M629.5 407V410M629.5 413V416M629.5 419V422M629.5 425V428M629.5 431V434M629.5 437V440M629.5 443V446M629.5 449V452M629.5 455V458M629.5 461V464M629.5 467V470M629.5 473V476M629.5 479V482M629.5 485V488M629.5 491V494M629.5 497V500M629.5 503V506M629.5 509V512M629.5 515V518M629.5 521V524M629.5 527V530M629.5 533V536M629.5 539V542M629.5 545V548M629.5 551V554M629.5 557V560M629.5 563V566M629.5 569V572M629.5 575V578M629.5 581V584M629.5 587V590M629.5 593V596M629.5 599V602M629.5 605V608M629.5 611V614M629.5 617V620M629.5 623V626M629.5 629V632M629.5 635V638M629.5 641V644M629.5 647V650M629.5 653V656M629.5 659V662M629.5 665V668M629.5 671V674M629.5 677V680M629.5 683V686M629.5 689V692M629.5 695V698M629.5 701V704M629.5 707V710M629.5 713V716M629.5 719V722M629.5 725V728M629.5 732V734M629.5 737V740M629.5 743V746M629.5 749V752M629.5 755V758M629.5 761V764M629.5 767V770M629.5 773V776M629.5 779V782M629.5 785V788M629.5 791V794M629.5 797V800M629.5 803V806M629.5 809V812M629.5 815V818M629.5 821V824M629.5 827V830M629.5 833V836M629.5 839V842M629.5 845V848M629.5 851V854M629.5 857V860M629.5 863V866M629.5 869V872M629.5 875V878M629.5 881V884M666.5 0V3M666.5 6V9M666.5 12V15M666.5 18V21M666.5 24V27M666.5 30V33M666.5 36V39M666.5 42V45M666.5 48V51M666.5 54V57M666.5 60V63M666.5 66V69M666.5 72V75M666.5 78V81M666.5 84V87M666.5 89V91M666.5 94V97M666.5 100V103M666.5 106V109M666.5 112V115M666.5 118V121M666.5 124V127M666.5 130V133M666.5 136V139M666.5 142V145M666.5 148V151M666.5 154V157M666.5 160V163M666.5 166V169M666.5 172V175M666.5 178V181M666.5 184V187M666.5 190V193M666.5 196V199M666.5 202V205M666.5 208V211M666.5 214V217M666.5 220V223M666.5 226V229M666.5 232V235M666.5 238V241M666.5 244V247M666.5 250V253M666.5 256V259M666.5 262V265M666.5 268V271M666.5 274V277M666.5 280V283M666.5 286V289M666.5 292V295M666.5 298V301M666.5 304V307M666.5 310V313M666.5 316V319M666.5 322V325M666.5 328V331M666.5 334V337M666.5 340V343M666.5 346V349M666.5 352V355M666.5 358V361M666.5 364V367M666.5 370V373M666.5 376V379M666.5 382V385M666.5 388V391M666.5 394V397M666.5 400V403M666.5 406V409M666.5 412V415M666.5 418V421M666.5 424V427M666.5 430V433M666.5 436V439M666.5 442V445M666.5 448V451M666.5 454V457M666.5 460V463M666.5 466V469M666.5 472V475M666.5 478V481M666.5 484V487M666.5 490V493M666.5 496V499M666.5 502V505M666.5 508V511M666.5 514V517M666.5 520V523M666.5 526V529M666.5 532V535M666.5 538V541M666.5 544V547M666.5 550V553M666.5 556V559M666.5 562V565M666.5 568V571M666.5 574V577M666.5 580V583M666.5 586V589M666.5 592V595M666.5 598V601M666.5 604V607M666.5 610V613M666.5 616V619M666.5 622V625M666.5 628V631M666.5 634V637M666.5 640V643M666.5 646V649M666.5 652V655M666.5 658V661M666.5 664V667M666.5 670V673M666.5 676V679M666.5 682V685M666.5 688V691M666.5 694V697M666.5 700V703M666.5 706V709M666.5 712V715M666.5 718V721M666.5 724V727M666.5 730V731M666.5 732V734M666.5 737V740M666.5 743V746M666.5 749V752M666.5 755V758M666.5 761V764M666.5 767V770M666.5 773V776M666.5 779V782M666.5 785V788M666.5 791V794M666.5 797V800M666.5 803V806M666.5 809V812M666.5 815V818M666.5 821V824M666.5 827V830M666.5 833V836M666.5 839V842M666.5 845V848M666.5 851V854M666.5 857V860M666.5 863V866M666.5 869V872M666.5 875V878M666.5 881V884M704.5 0V3M704.5 6V9M704.5 12V15M704.5 18V21M704.5 24V27M704.5 30V33M704.5 36V39M704.5 42V45M704.5 48V51M704.5 54V57M704.5 60V63M704.5 66V69M704.5 72V75M704.5 78V81M704.5 84V87M704.5 89V91M704.5 94V97M704.5 100V103M704.5 106V109M704.5 112V115M704.5 118V121M704.5 124V127M704.5 130V133M704.5 136V139M704.5 142V145M704.5 148V151M704.5 154V157M704.5 160V163M704.5 166V169M704.5 172V175M704.5 178V181M704.5 184V187M704.5 190V193M704.5 196V199M704.5 202V205M704.5 208V211M704.5 214V217M704.5 220V223M704.5 226V229M704.5 232V235M704.5 238V241M704.5 244V247M704.5 250V253M704.5 256V259M704.5 262V265M704.5 268V271M704.5 274V277M704.5 280V283M704.5 286V289M704.5 292V295M704.5 298V301M704.5 304V307M704.5 310V313M704.5 316V319M704.5 322V325M704.5 328V331M704.5 334V337M704.5 340V343M704.5 346V349M704.5 352V355M704.5 358V361M704.5 364V367M704.5 370V373M704.5 376V379M704.5 382V385M704.5 388V391M704.5 394V397M704.5 400V403M704.5 406V409M704.5 412V415M704.5 418V421M704.5 424V427M704.5 430V433M704.5 436V439M704.5 442V445M704.5 448V451M704.5 454V457M704.5 460V463M704.5 466V469M704.5 472V475M704.5 478V481M704.5 484V487M704.5 490V493M704.5 496V499M704.5 502V505M704.5 508V511M704.5 514V517M704.5 520V523M704.5 526V529M704.5 532V535M704.5 538V541M704.5 544V547M704.5 550V553M704.5 556V559M704.5 562V565M704.5 568V571M704.5 574V577M704.5 580V583M704.5 586V589M704.5 592V595M704.5 598V601M704.5 604V607M704.5 610V613M704.5 616V619M704.5 622V625M704.5 628V631M704.5 634V637M704.5 640V643M704.5 646V649M704.5 652V655M704.5 658V661M704.5 664V667M704.5 670V673M704.5 676V679M704.5 682V685M704.5 688V691M704.5 694V697M704.5 700V703M704.5 706V709M704.5 712V715M704.5 718V721M704.5 724V727M704.5 730V731M704.5 732V734M704.5 737V740M704.5 743V746M704.5 749V752M704.5 755V758M704.5 761V764M704.5 767V770M704.5 773V776M704.5 779V782M704.5 785V788M704.5 791V794M704.5 797V800M704.5 803V806M704.5 809V812M704.5 815V818M704.5 821V824M704.5 827V830M704.5 833V836M704.5 839V842M704.5 845V848M704.5 851V854M704.5 857V860M704.5 863V866M704.5 869V872M704.5 875V878M704.5 881V884M741.5 0V3M741.5 6V9M741.5 12V15M741.5 18V21M741.5 24V27M741.5 30V33M741.5 36V39M741.5 42V45M741.5 48V51M741.5 54V57M741.5 60V63M741.5 66V69M741.5 72V75M741.5 78V81M741.5 84V87M741.5 89V92M741.5 95V98M741.5 101V104M741.5 107V110M741.5 113V116M741.5 119V122M741.5 125V128M741.5 131V134M741.5 137V140M741.5 143V146M741.5 149V152M741.5 155V158M741.5 161V164M741.5 167V170M741.5 173V176M741.5 179V182M741.5 185V188M741.5 191V194M741.5 197V200M741.5 203V206M741.5 209V212M741.5 215V218M741.5 221V224M741.5 227V230M741.5 233V236M741.5 239V242M741.5 245V248M741.5 251V254M741.5 257V260M741.5 263V266M741.5 269V272M741.5 275V278M741.5 281V284M741.5 287V290M741.5 293V296M741.5 299V302M741.5 305V308M741.5 311V314M741.5 317V320M741.5 323V326M741.5 329V332M741.5 335V338M741.5 341V344M741.5 347V350M741.5 353V356M741.5 359V362M741.5 365V368M741.5 371V374M741.5 377V380M741.5 383V386M741.5 389V392M741.5 395V398M741.5 401V404M741.5 407V410M741.5 413V416M741.5 419V422M741.5 425V428M741.5 431V434M741.5 437V440M741.5 443V446M741.5 449V452M741.5 455V458M741.5 461V464M741.5 467V470M741.5 473V476M741.5 479V482M741.5 485V488M741.5 491V494M741.5 497V500M741.5 503V506M741.5 509V512M741.5 515V518M741.5 521V524M741.5 527V530M741.5 533V536M741.5 539V542M741.5 545V548M741.5 551V554M741.5 557V560M741.5 563V566M741.5 569V572M741.5 575V578M741.5 581V584M741.5 587V590M741.5 593V596M741.5 599V602M741.5 605V608M741.5 611V614M741.5 617V620M741.5 623V626M741.5 629V632M741.5 635V638M741.5 641V644M741.5 647V650M741.5 653V656M741.5 659V662M741.5 665V668M741.5 671V674M741.5 677V680M741.5 683V686M741.5 689V692M741.5 695V698M741.5 701V704M741.5 707V710M741.5 713V716M741.5 719V722M741.5 725V728M741.5 732V734M741.5 737V740M741.5 743V746M741.5 749V752M741.5 755V758M741.5 761V764M741.5 767V770M741.5 773V776M741.5 779V782M741.5 785V788M741.5 791V794M741.5 797V800M741.5 803V806M741.5 809V812M741.5 815V818M741.5 821V824M741.5 827V830M741.5 833V836M741.5 839V842M741.5 845V848M741.5 851V854M741.5 857V860M741.5 863V866M741.5 869V872M741.5 875V878M741.5 881V884M778.5 0V3M778.5 6V9M778.5 12V15M778.5 18V21M778.5 24V27M778.5 30V33M778.5 36V39M778.5 42V45M778.5 48V51M778.5 54V57M778.5 60V63M778.5 66V69M778.5 72V75M778.5 78V81M778.5 84V87M778.5 89V92M778.5 95V98M778.5 101V104M778.5 107V110M778.5 113V116M778.5 119V122M778.5 125V128M778.5 131V134M778.5 137V140M778.5 143V146M778.5 149V152M778.5 155V158M778.5 161V164M778.5 167V170M778.5 173V176M778.5 179V182M778.5 185V188M778.5 191V194M778.5 197V200M778.5 203V206M778.5 209V212M778.5 215V218M778.5 221V224M778.5 227V230M778.5 233V236M778.5 239V242M778.5 245V248M778.5 251V254M778.5 257V260M778.5 263V266M778.5 269V272M778.5 275V278M778.5 281V284M778.5 287V290M778.5 293V296M778.5 299V302M778.5 305V308M778.5 311V314M778.5 317V320M778.5 323V326M778.5 329V332M778.5 335V338M778.5 341V344M778.5 347V350M778.5 353V356M778.5 359V362M778.5 365V368M778.5 371V374M778.5 377V380M778.5 383V386M778.5 389V392M778.5 395V398M778.5 401V404M778.5 407V410M778.5 413V416M778.5 419V422M778.5 425V428M778.5 431V434M778.5 437V440M778.5 443V446M778.5 449V452M778.5 455V458M778.5 461V464M778.5 467V470M778.5 473V476M778.5 479V482M778.5 485V488M778.5 491V494M778.5 497V500M778.5 503V506M778.5 509V512M778.5 515V518M778.5 521V524M778.5 527V530M778.5 533V536M778.5 539V542M778.5 545V548M778.5 551V554M778.5 557V560M778.5 563V566M778.5 569V572M778.5 575V578M778.5 581V584M778.5 587V590M778.5 593V596M778.5 599V602M778.5 605V608M778.5 611V614M778.5 617V620M778.5 623V626M778.5 629V632M778.5 635V638M778.5 641V644M778.5 647V650M778.5 653V656M778.5 659V662M778.5 665V668M778.5 671V674M778.5 677V680M778.5 683V686M778.5 689V692M778.5 695V698M778.5 701V704M778.5 707V710M778.5 713V716M778.5 719V722M778.5 725V728M778.5 732V734M778.5 737V740M778.5 743V746M778.5 749V752M778.5 755V758M778.5 761V764M778.5 767V770M778.5 773V776M778.5 779V782M778.5 785V788M778.5 791V794M778.5 797V800M778.5 803V806M778.5 809V812M778.5 815V818M778.5 821V824M778.5 827V830M778.5 833V836M778.5 839V842M778.5 845V848M778.5 851V854M778.5 857V860M778.5 863V866M778.5 869V872M778.5 875V878M778.5 881V884M815.5 0V3M815.5 6V9M815.5 12V15M815.5 18V21M815.5 24V27M815.5 30V33M815.5 36V39M815.5 42V45M815.5 48V51M815.5 54V57M815.5 60V63M815.5 66V69M815.5 72V75M815.5 78V81M815.5 84V87M815.5 89V91M815.5 94V97M815.5 100V103M815.5 106V109M815.5 112V115M815.5 118V121M815.5 124V127M815.5 130V133M815.5 136V139M815.5 142V145M815.5 148V151M815.5 154V157M815.5 160V163M815.5 166V169M815.5 172V175M815.5 178V181M815.5 184V187M815.5 190V193M815.5 196V199M815.5 202V205M815.5 208V211M815.5 214V217M815.5 220V223M815.5 226V229M815.5 232V235M815.5 238V241M815.5 244V247M815.5 250V253M815.5 256V259M815.5 262V265M815.5 268V271M815.5 274V277M815.5 280V283M815.5 286V289M815.5 292V295M815.5 298V301M815.5 304V307M815.5 310V313M815.5 316V319M815.5 322V325M815.5 328V331M815.5 334V337M815.5 340V343M815.5 346V349M815.5 352V355M815.5 358V361M815.5 364V367M815.5 370V373M815.5 376V379M815.5 382V385M815.5 388V391M815.5 394V397M815.5 400V403M815.5 406V409M815.5 412V415M815.5 418V421M815.5 424V427M815.5 430V433M815.5 436V439M815.5 442V445M815.5 448V451M815.5 454V457M815.5 460V463M815.5 466V469M815.5 472V475M815.5 478V481M815.5 484V487M815.5 490V493M815.5 496V499M815.5 502V505M815.5 508V511M815.5 514V517M815.5 520V523M815.5 526V529M815.5 532V535M815.5 538V541M815.5 544V547M815.5 550V553M815.5 556V559M815.5 562V565M815.5 568V571M815.5 574V577M815.5 580V583M815.5 586V589M815.5 592V595M815.5 598V601M815.5 604V607M815.5 610V613M815.5 616V619M815.5 622V625M815.5 628V631M815.5 634V637M815.5 640V643M815.5 646V649M815.5 652V655M815.5 658V661M815.5 664V667M815.5 670V673M815.5 676V679M815.5 682V685M815.5 688V691M815.5 694V697M815.5 700V703M815.5 706V709M815.5 712V715M815.5 718V721M815.5 724V727M815.5 730V731M815.5 732V734M815.5 737V740M815.5 743V746M815.5 749V752M815.5 755V758M815.5 761V764M815.5 767V770M815.5 773V776M815.5 779V782M815.5 785V788M815.5 791V794M815.5 797V800M815.5 803V806M815.5 809V812M815.5 815V818M815.5 821V824M815.5 827V830M815.5 833V836M815.5 839V842M815.5 845V848M815.5 851V854M815.5 857V860M815.5 863V866M815.5 869V872M815.5 875V878M815.5 881V884M853.5 0V3M853.5 6V9M853.5 12V15M853.5 18V21M853.5 24V27M853.5 30V33M853.5 36V39M853.5 42V45M853.5 48V51M853.5 54V57M853.5 60V63M853.5 66V69M853.5 72V75M853.5 78V81M853.5 84V87M853.5 89V92M853.5 95V98M853.5 101V104M853.5 107V110M853.5 113V116M853.5 119V122M853.5 125V128M853.5 131V134M853.5 137V140M853.5 143V146M853.5 149V152M853.5 155V158M853.5 161V164M853.5 167V170M853.5 173V176M853.5 179V182M853.5 185V188M853.5 191V194M853.5 197V200M853.5 203V206M853.5 209V212M853.5 215V218M853.5 221V224M853.5 227V230M853.5 233V236M853.5 239V242M853.5 245V248M853.5 251V254M853.5 257V260M853.5 263V266M853.5 269V272M853.5 275V278M853.5 281V284M853.5 287V290M853.5 293V296M853.5 299V302M853.5 305V308M853.5 311V314M853.5 317V320M853.5 323V326M853.5 329V332M853.5 335V338M853.5 341V344M853.5 347V350M853.5 353V356M853.5 359V362M853.5 365V368M853.5 371V374M853.5 377V380M853.5 383V386M853.5 389V392M853.5 395V398M853.5 401V404M853.5 407V410M853.5 413V416M853.5 419V422M853.5 425V428M853.5 431V434M853.5 437V440M853.5 443V446M853.5 449V452M853.5 455V458M853.5 461V464M853.5 467V470M853.5 473V476M853.5 479V482M853.5 485V488M853.5 491V494M853.5 497V500M853.5 503V506M853.5 509V512M853.5 515V518M853.5 521V524M853.5 527V530M853.5 533V536M853.5 539V542M853.5 545V548M853.5 551V554M853.5 557V560M853.5 563V566M853.5 569V572M853.5 575V578M853.5 581V584M853.5 587V590M853.5 593V596M853.5 599V602M853.5 605V608M853.5 611V614M853.5 617V620M853.5 623V626M853.5 629V632M853.5 635V638M853.5 641V644M853.5 647V650M853.5 653V656M853.5 659V662M853.5 665V668M853.5 671V674M853.5 677V680M853.5 683V686M853.5 689V692M853.5 695V698M853.5 701V704M853.5 707V710M853.5 713V716M853.5 719V722M853.5 725V728M853.5 732V734M853.5 737V740M853.5 743V746M853.5 749V752M853.5 755V758M853.5 761V764M853.5 767V770M853.5 773V776M853.5 779V782M853.5 785V788M853.5 791V794M853.5 797V800M853.5 803V806M853.5 809V812M853.5 815V818M853.5 821V824M853.5 827V830M853.5 833V836M853.5 839V842M853.5 845V848M853.5 851V854M853.5 857V860M853.5 863V866M853.5 869V872M853.5 875V878M853.5 881V884M890.5 0V3M890.5 6V9M890.5 12V15M890.5 18V21M890.5 24V27M890.5 30V33M890.5 36V39M890.5 42V45M890.5 48V51M890.5 54V57M890.5 60V63M890.5 66V69M890.5 72V75M890.5 78V81M890.5 84V87M890.5 89V92M890.5 95V98M890.5 101V104M890.5 107V110M890.5 113V116M890.5 119V122M890.5 125V128M890.5 131V134M890.5 137V140M890.5 143V146M890.5 149V152M890.5 155V158M890.5 161V164M890.5 167V170M890.5 173V176M890.5 179V182M890.5 185V188M890.5 191V194M890.5 197V200M890.5 203V206M890.5 209V212M890.5 215V218M890.5 221V224M890.5 227V230M890.5 233V236M890.5 239V242M890.5 245V248M890.5 251V254M890.5 257V260M890.5 263V266M890.5 269V272M890.5 275V278M890.5 281V284M890.5 287V290M890.5 293V296M890.5 299V302M890.5 305V308M890.5 311V314M890.5 317V320M890.5 323V326M890.5 329V332M890.5 335V338M890.5 341V344M890.5 347V350M890.5 353V356M890.5 359V362M890.5 365V368M890.5 371V374M890.5 377V380M890.5 383V386M890.5 389V392M890.5 395V398M890.5 401V404M890.5 407V410M890.5 413V416M890.5 419V422M890.5 425V428M890.5 431V434M890.5 437V440M890.5 443V446M890.5 449V452M890.5 455V458M890.5 461V464M890.5 467V470M890.5 473V476M890.5 479V482M890.5 485V488M890.5 491V494M890.5 497V500M890.5 503V506M890.5 509V512M890.5 515V518M890.5 521V524M890.5 527V530M890.5 533V536M890.5 539V542M890.5 545V548M890.5 551V554M890.5 557V560M890.5 563V566M890.5 569V572M890.5 575V578M890.5 581V584M890.5 587V590M890.5 593V596M890.5 599V602M890.5 605V608M890.5 611V614M890.5 617V620M890.5 623V626M890.5 629V632M890.5 635V638M890.5 641V644M890.5 647V650M890.5 653V656M890.5 659V662M890.5 665V668M890.5 671V674M890.5 677V680M890.5 683V686M890.5 689V692M890.5 695V698M890.5 701V704M890.5 707V710M890.5 713V716M890.5 719V722M890.5 725V728M890.5 732V734M890.5 737V740M890.5 743V746M890.5 749V752M890.5 755V758M890.5 761V764M890.5 767V770M890.5 773V776M890.5 779V782M890.5 785V788M890.5 791V794M890.5 797V800M890.5 803V806M890.5 809V812M890.5 815V818M890.5 821V824M890.5 827V830M890.5 833V836M890.5 839V842M890.5 845V848M890.5 851V854M890.5 857V860M890.5 863V866M890.5 869V872M890.5 875V878M890.5 881V884M927.5 0V3M927.5 6V9M927.5 12V15M927.5 18V21M927.5 24V27M927.5 30V33M927.5 36V39M927.5 42V45M927.5 48V51M927.5 54V57M927.5 60V63M927.5 66V69M927.5 72V75M927.5 78V81M927.5 84V87M927.5 89V91M927.5 94V97M927.5 100V103M927.5 106V109M927.5 112V115M927.5 118V121M927.5 124V127M927.5 130V133M927.5 136V139M927.5 142V145M927.5 148V151M927.5 154V157M927.5 160V163M927.5 166V169M927.5 172V175M927.5 178V181M927.5 184V187M927.5 190V193M927.5 196V199M927.5 202V205M927.5 208V211M927.5 214V217M927.5 220V223M927.5 226V229M927.5 232V235M927.5 238V241M927.5 244V247M927.5 250V253M927.5 256V259M927.5 262V265M927.5 268V271M927.5 274V277M927.5 280V283M927.5 286V289M927.5 292V295M927.5 298V301M927.5 304V307M927.5 310V313M927.5 316V319M927.5 322V325M927.5 328V331M927.5 334V337M927.5 340V343M927.5 346V349M927.5 352V355M927.5 358V361M927.5 364V367M927.5 370V373M927.5 376V379M927.5 382V385M927.5 388V391M927.5 394V397M927.5 400V403M927.5 406V409M927.5 412V415M927.5 418V421M927.5 424V427M927.5 430V433M927.5 436V439M927.5 442V445M927.5 448V451M927.5 454V457M927.5 460V463M927.5 466V469M927.5 472V475M927.5 478V481M927.5 484V487M927.5 490V493M927.5 496V499M927.5 502V505M927.5 508V511M927.5 514V517M927.5 520V523M927.5 526V529M927.5 532V535M927.5 538V541M927.5 544V547M927.5 550V553M927.5 556V559M927.5 562V565M927.5 568V571M927.5 574V577M927.5 580V583M927.5 586V589M927.5 592V595M927.5 598V601M927.5 604V607M927.5 610V613M927.5 616V619M927.5 622V625M927.5 628V631M927.5 634V637M927.5 640V643M927.5 646V649M927.5 652V655M927.5 658V661M927.5 664V667M927.5 670V673M927.5 676V679M927.5 682V685M927.5 688V691M927.5 694V697M927.5 700V703M927.5 706V709M927.5 712V715M927.5 718V721M927.5 724V727M927.5 730V731M927.5 732V734M927.5 737V740M927.5 743V746M927.5 749V752M927.5 755V758M927.5 761V764M927.5 767V770M927.5 773V776M927.5 779V782M927.5 785V788M927.5 791V794M927.5 797V800M927.5 803V806M927.5 809V812M927.5 815V818M927.5 821V824M927.5 827V830M927.5 833V836M927.5 839V842M927.5 845V848M927.5 851V854M927.5 857V860M927.5 863V866M927.5 869V872M927.5 875V878M927.5 881V884M965.5 0V3M965.5 6V9M965.5 12V15M965.5 18V21M965.5 24V27M965.5 30V33M965.5 36V39M965.5 42V45M965.5 48V51M965.5 54V57M965.5 60V63M965.5 66V69M965.5 72V75M965.5 78V81M965.5 84V87M965.5 89V91M965.5 94V97M965.5 100V103M965.5 106V109M965.5 112V115M965.5 118V121M965.5 124V127M965.5 130V133M965.5 136V139M965.5 142V145M965.5 148V151M965.5 154V157M965.5 160V163M965.5 166V169M965.5 172V175M965.5 178V181M965.5 184V187M965.5 190V193M965.5 196V199M965.5 202V205M965.5 208V211M965.5 214V217M965.5 220V223M965.5 226V229M965.5 232V235M965.5 238V241M965.5 244V247M965.5 250V253M965.5 256V259M965.5 262V265M965.5 268V271M965.5 274V277M965.5 280V283M965.5 286V289M965.5 292V295M965.5 298V301M965.5 304V307M965.5 310V313M965.5 316V319M965.5 322V325M965.5 328V331M965.5 334V337M965.5 340V343M965.5 346V349M965.5 352V355M965.5 358V361M965.5 364V367M965.5 370V373M965.5 376V379M965.5 382V385M965.5 388V391M965.5 394V397M965.5 400V403M965.5 406V409M965.5 412V415M965.5 418V421M965.5 424V427M965.5 430V433M965.5 436V439M965.5 442V445M965.5 448V451M965.5 454V457M965.5 460V463M965.5 466V469M965.5 472V475M965.5 478V481M965.5 484V487M965.5 490V493M965.5 496V499M965.5 502V505M965.5 508V511M965.5 514V517M965.5 520V523M965.5 526V529M965.5 532V535M965.5 538V541M965.5 544V547M965.5 550V553M965.5 556V559M965.5 562V565M965.5 568V571M965.5 574V577M965.5 580V583M965.5 586V589M965.5 592V595M965.5 598V601M965.5 604V607M965.5 610V613M965.5 616V619M965.5 622V625M965.5 628V631M965.5 634V637M965.5 640V643M965.5 646V649M965.5 652V655M965.5 658V661M965.5 664V667M965.5 670V673M965.5 676V679M965.5 682V685M965.5 688V691M965.5 694V697M965.5 700V703M965.5 706V709M965.5 712V715M965.5 718V721M965.5 724V727M965.5 730V731M965.5 732V734M965.5 737V740M965.5 743V746M965.5 749V752M965.5 755V758M965.5 761V764M965.5 767V770M965.5 773V776M965.5 779V782M965.5 785V788M965.5 791V794M965.5 797V800M965.5 803V806M965.5 809V812M965.5 815V818M965.5 821V824M965.5 827V830M965.5 833V836M965.5 839V842M965.5 845V848M965.5 851V854M965.5 857V860M965.5 863V866M965.5 869V872M965.5 875V878M965.5 881V884M1002.5 0V3M1002.5 6V9M1002.5 12V15M1002.5 18V21M1002.5 24V27M1002.5 30V33M1002.5 36V39M1002.5 42V45M1002.5 48V51M1002.5 54V57M1002.5 60V63M1002.5 66V69M1002.5 72V75M1002.5 78V81M1002.5 84V87M1002.5 89V92M1002.5 95V98M1002.5 101V104M1002.5 107V110M1002.5 113V116M1002.5 119V122M1002.5 125V128M1002.5 131V134M1002.5 137V140M1002.5 143V146M1002.5 149V152M1002.5 155V158M1002.5 161V164M1002.5 167V170M1002.5 173V176M1002.5 179V182M1002.5 185V188M1002.5 191V194M1002.5 197V200M1002.5 203V206M1002.5 209V212M1002.5 215V218M1002.5 221V224M1002.5 227V230M1002.5 233V236M1002.5 239V242M1002.5 245V248M1002.5 251V254M1002.5 257V260M1002.5 263V266M1002.5 269V272M1002.5 275V278M1002.5 281V284M1002.5 287V290M1002.5 293V296M1002.5 299V302M1002.5 305V308M1002.5 311V314M1002.5 317V320M1002.5 323V326M1002.5 329V332M1002.5 335V338M1002.5 341V344M1002.5 347V350M1002.5 353V356M1002.5 359V362M1002.5 365V368M1002.5 371V374M1002.5 377V380M1002.5 383V386M1002.5 389V392M1002.5 395V398M1002.5 401V404M1002.5 407V410M1002.5 413V416M1002.5 419V422M1002.5 425V428M1002.5 431V434M1002.5 437V440M1002.5 443V446M1002.5 449V452M1002.5 455V458M1002.5 461V464M1002.5 467V470M1002.5 473V476M1002.5 479V482M1002.5 485V488M1002.5 491V494M1002.5 497V500M1002.5 503V506M1002.5 509V512M1002.5 515V518M1002.5 521V524M1002.5 527V530M1002.5 533V536M1002.5 539V542M1002.5 545V548M1002.5 551V554M1002.5 557V560M1002.5 563V566M1002.5 569V572M1002.5 575V578M1002.5 581V584M1002.5 587V590M1002.5 593V596M1002.5 599V602M1002.5 605V608M1002.5 611V614M1002.5 617V620M1002.5 623V626M1002.5 629V632M1002.5 635V638M1002.5 641V644M1002.5 647V650M1002.5 653V656M1002.5 659V662M1002.5 665V668M1002.5 671V674M1002.5 677V680M1002.5 683V686M1002.5 689V692M1002.5 695V698M1002.5 701V704M1002.5 707V710M1002.5 713V716M1002.5 719V722M1002.5 725V728M1002.5 732V734M1002.5 737V740M1002.5 743V746M1002.5 749V752M1002.5 755V758M1002.5 761V764M1002.5 767V770M1002.5 773V776M1002.5 779V782M1002.5 785V788M1002.5 791V794M1002.5 797V800M1002.5 803V806M1002.5 809V812M1002.5 815V818M1002.5 821V824M1002.5 827V830M1002.5 833V836M1002.5 839V842M1002.5 845V848M1002.5 851V854M1002.5 857V860M1002.5 863V866M1002.5 869V872M1002.5 875V878M1002.5 881V884M1039.5 0V3M1039.5 6V9M1039.5 12V15M1039.5 18V21M1039.5 24V27M1039.5 30V33M1039.5 36V39M1039.5 42V45M1039.5 48V51M1039.5 54V57M1039.5 60V63M1039.5 66V69M1039.5 72V75M1039.5 78V81M1039.5 84V87M1039.5 89V92M1039.5 95V98M1039.5 101V104M1039.5 107V110M1039.5 113V116M1039.5 119V122M1039.5 125V128M1039.5 131V134M1039.5 137V140M1039.5 143V146M1039.5 149V152M1039.5 155V158M1039.5 161V164M1039.5 167V170M1039.5 173V176M1039.5 179V182M1039.5 185V188M1039.5 191V194M1039.5 197V200M1039.5 203V206M1039.5 209V212M1039.5 215V218M1039.5 221V224M1039.5 227V230M1039.5 233V236M1039.5 239V242M1039.5 245V248M1039.5 251V254M1039.5 257V260M1039.5 263V266M1039.5 269V272M1039.5 275V278M1039.5 281V284M1039.5 287V290M1039.5 293V296M1039.5 299V302M1039.5 305V308M1039.5 311V314M1039.5 317V320M1039.5 323V326M1039.5 329V332M1039.5 335V338M1039.5 341V344M1039.5 347V350M1039.5 353V356M1039.5 359V362M1039.5 365V368M1039.5 371V374M1039.5 377V380M1039.5 383V386M1039.5 389V392M1039.5 395V398M1039.5 401V404M1039.5 407V410M1039.5 413V416M1039.5 419V422M1039.5 425V428M1039.5 431V434M1039.5 437V440M1039.5 443V446M1039.5 449V452M1039.5 455V458M1039.5 461V464M1039.5 467V470M1039.5 473V476M1039.5 479V482M1039.5 485V488M1039.5 491V494M1039.5 497V500M1039.5 503V506M1039.5 509V512M1039.5 515V518M1039.5 521V524M1039.5 527V530M1039.5 533V536M1039.5 539V542M1039.5 545V548M1039.5 551V554M1039.5 557V560M1039.5 563V566M1039.5 569V572M1039.5 575V578M1039.5 581V584M1039.5 587V590M1039.5 593V596M1039.5 599V602M1039.5 605V608M1039.5 611V614M1039.5 617V620M1039.5 623V626M1039.5 629V632M1039.5 635V638M1039.5 641V644M1039.5 647V650M1039.5 653V656M1039.5 659V662M1039.5 665V668M1039.5 671V674M1039.5 677V680M1039.5 683V686M1039.5 689V692M1039.5 695V698M1039.5 701V704M1039.5 707V710M1039.5 713V716M1039.5 719V722M1039.5 725V728M1039.5 732V734M1039.5 737V740M1039.5 743V746M1039.5 749V752M1039.5 755V758M1039.5 761V764M1039.5 767V770M1039.5 773V776M1039.5 779V782M1039.5 785V788M1039.5 791V794M1039.5 797V800M1039.5 803V806M1039.5 809V812M1039.5 815V818M1039.5 821V824M1039.5 827V830M1039.5 833V836M1039.5 839V842M1039.5 845V848M1039.5 851V854M1039.5 857V860M1039.5 863V866M1039.5 869V872M1039.5 875V878M1039.5 881V884M1076.5 0V3M1076.5 6V9M1076.5 12V15M1076.5 18V21M1076.5 24V27M1076.5 30V33M1076.5 36V39M1076.5 42V45M1076.5 48V51M1076.5 54V57M1076.5 60V63M1076.5 66V69M1076.5 72V75M1076.5 78V81M1076.5 84V87M1076.5 89V91M1076.5 94V97M1076.5 100V103M1076.5 106V109M1076.5 112V115M1076.5 118V121M1076.5 124V127M1076.5 130V133M1076.5 136V139M1076.5 142V145M1076.5 148V151M1076.5 154V157M1076.5 160V163M1076.5 166V169M1076.5 172V175M1076.5 178V181M1076.5 184V187M1076.5 190V193M1076.5 196V199M1076.5 202V205M1076.5 208V211M1076.5 214V217M1076.5 220V223M1076.5 226V229M1076.5 232V235M1076.5 238V241M1076.5 244V247M1076.5 250V253M1076.5 256V259M1076.5 262V265M1076.5 268V271M1076.5 274V277M1076.5 280V283M1076.5 286V289M1076.5 292V295M1076.5 298V301M1076.5 304V307M1076.5 310V313M1076.5 316V319M1076.5 322V325M1076.5 328V331M1076.5 334V337M1076.5 340V343M1076.5 346V349M1076.5 352V355M1076.5 358V361M1076.5 364V367M1076.5 370V373M1076.5 376V379M1076.5 382V385M1076.5 388V391M1076.5 394V397M1076.5 400V403M1076.5 406V409M1076.5 412V415M1076.5 418V421M1076.5 424V427M1076.5 430V433M1076.5 436V439M1076.5 442V445M1076.5 448V451M1076.5 454V457M1076.5 460V463M1076.5 466V469M1076.5 472V475M1076.5 478V481M1076.5 484V487M1076.5 490V493M1076.5 496V499M1076.5 502V505M1076.5 508V511M1076.5 514V517M1076.5 520V523M1076.5 526V529M1076.5 532V535M1076.5 538V541M1076.5 544V547M1076.5 550V553M1076.5 556V559M1076.5 562V565M1076.5 568V571M1076.5 574V577M1076.5 580V583M1076.5 586V589M1076.5 592V595M1076.5 598V601M1076.5 604V607M1076.5 610V613M1076.5 616V619M1076.5 622V625M1076.5 628V631M1076.5 634V637M1076.5 640V643M1076.5 646V649M1076.5 652V655M1076.5 658V661M1076.5 664V667M1076.5 670V673M1076.5 676V679M1076.5 682V685M1076.5 688V691M1076.5 694V697M1076.5 700V703M1076.5 706V709M1076.5 712V715M1076.5 718V721M1076.5 724V727M1076.5 730V731M1076.5 732V734M1076.5 737V740M1076.5 743V746M1076.5 749V752M1076.5 755V758M1076.5 761V764M1076.5 767V770M1076.5 773V776M1076.5 779V782M1076.5 785V788M1076.5 791V794M1076.5 797V800M1076.5 803V806M1076.5 809V812M1076.5 815V818M1076.5 821V824M1076.5 827V830M1076.5 833V836M1076.5 839V842M1076.5 845V848M1076.5 851V854M1076.5 857V860M1076.5 863V866M1076.5 869V872M1076.5 875V878M1076.5 881V884M1128.5 0V3M1128.5 6V9M1128.5 12V15M1128.5 18V21M1128.5 24V27M1128.5 30V33M1128.5 36V39M1128.5 42V45M1128.5 48V51M1128.5 54V57M1128.5 60V63M1128.5 66V69M1128.5 72V75M1128.5 78V81M1128.5 84V87M1128.5 89V91M1128.5 94V97M1128.5 100V103M1128.5 106V109M1128.5 112V115M1128.5 118V121M1128.5 124V127M1128.5 130V133M1128.5 136V139M1128.5 142V145M1128.5 148V151M1128.5 154V157M1128.5 160V163M1128.5 166V169M1128.5 172V175M1128.5 178V181M1128.5 184V187M1128.5 190V193M1128.5 196V199M1128.5 202V205M1128.5 208V211M1128.5 214V217M1128.5 220V223M1128.5 226V229M1128.5 232V235M1128.5 238V241M1128.5 244V247M1128.5 250V253M1128.5 256V259M1128.5 262V265M1128.5 268V271M1128.5 274V277M1128.5 280V283M1128.5 286V289M1128.5 292V295M1128.5 298V301M1128.5 304V307M1128.5 310V313M1128.5 316V319M1128.5 322V325M1128.5 328V331M1128.5 334V337M1128.5 340V343M1128.5 346V349M1128.5 352V355M1128.5 358V361M1128.5 364V367M1128.5 370V373M1128.5 376V379M1128.5 382V385M1128.5 388V391M1128.5 394V397M1128.5 400V403M1128.5 406V409M1128.5 412V415M1128.5 418V421M1128.5 424V427M1128.5 430V433M1128.5 436V439M1128.5 442V445M1128.5 448V451M1128.5 454V457M1128.5 460V463M1128.5 466V469M1128.5 472V475M1128.5 478V481M1128.5 484V487M1128.5 490V493M1128.5 496V499M1128.5 502V505M1128.5 508V511M1128.5 514V517M1128.5 520V523M1128.5 526V529M1128.5 532V535M1128.5 538V541M1128.5 544V547M1128.5 550V553M1128.5 556V559M1128.5 562V565M1128.5 568V571M1128.5 574V577M1128.5 580V583M1128.5 586V589M1128.5 592V595M1128.5 598V601M1128.5 604V607M1128.5 610V613M1128.5 616V619M1128.5 622V625M1128.5 628V631M1128.5 634V637M1128.5 640V643M1128.5 646V649M1128.5 652V655M1128.5 658V661M1128.5 664V667M1128.5 670V673M1128.5 676V679M1128.5 682V685M1128.5 688V691M1128.5 694V697M1128.5 700V703M1128.5 706V709M1128.5 712V715M1128.5 718V721M1128.5 724V727M1128.5 730V731M1128.5 732V734M1128.5 737V740M1128.5 743V746M1128.5 749V752M1128.5 755V758M1128.5 761V764M1128.5 767V770M1128.5 773V776M1128.5 779V782M1128.5 785V788M1128.5 791V794M1128.5 797V800M1128.5 803V806M1128.5 809V812M1128.5 815V818M1128.5 821V824M1128.5 827V830M1128.5 833V836M1128.5 839V842M1128.5 845V848M1128.5 851V854M1128.5 857V860M1128.5 863V866M1128.5 869V872M1128.5 875V878M1128.5 881V884M1166.5 0V3M1166.5 6V9M1166.5 12V15M1166.5 18V21M1166.5 24V27M1166.5 30V33M1166.5 36V39M1166.5 42V45M1166.5 48V51M1166.5 54V57M1166.5 60V63M1166.5 66V69M1166.5 72V75M1166.5 78V81M1166.5 84V87M1166.5 89V91M1166.5 94V97M1166.5 100V103M1166.5 106V109M1166.5 112V115M1166.5 118V121M1166.5 124V127M1166.5 130V133M1166.5 136V139M1166.5 142V145M1166.5 148V151M1166.5 154V157M1166.5 160V163M1166.5 166V169M1166.5 172V175M1166.5 178V181M1166.5 184V187M1166.5 190V193M1166.5 196V199M1166.5 202V205M1166.5 208V211M1166.5 214V217M1166.5 220V223M1166.5 226V229M1166.5 232V235M1166.5 238V241M1166.5 244V247M1166.5 250V253M1166.5 256V259M1166.5 262V265M1166.5 268V271M1166.5 274V277M1166.5 280V283M1166.5 286V289M1166.5 292V295M1166.5 298V301M1166.5 304V307M1166.5 310V313M1166.5 316V319M1166.5 322V325M1166.5 328V331M1166.5 334V337M1166.5 340V343M1166.5 346V349M1166.5 352V355M1166.5 358V361M1166.5 364V367M1166.5 370V373M1166.5 376V379M1166.5 382V385M1166.5 388V391M1166.5 394V397M1166.5 400V403M1166.5 406V409M1166.5 412V415M1166.5 418V421M1166.5 424V427M1166.5 430V433M1166.5 436V439M1166.5 442V445M1166.5 448V451M1166.5 454V457M1166.5 460V463M1166.5 466V469M1166.5 472V475M1166.5 478V481M1166.5 484V487M1166.5 490V493M1166.5 496V499M1166.5 502V505M1166.5 508V511M1166.5 514V517M1166.5 520V523M1166.5 526V529M1166.5 532V535M1166.5 538V541M1166.5 544V547M1166.5 550V553M1166.5 556V559M1166.5 562V565M1166.5 568V571M1166.5 574V577M1166.5 580V583M1166.5 586V589M1166.5 592V595M1166.5 598V601M1166.5 604V607M1166.5 610V613M1166.5 616V619M1166.5 622V625M1166.5 628V631M1166.5 634V637M1166.5 640V643M1166.5 646V649M1166.5 652V655M1166.5 658V661M1166.5 664V667M1166.5 670V673M1166.5 676V679M1166.5 682V685M1166.5 688V691M1166.5 694V697M1166.5 700V703M1166.5 706V709M1166.5 712V715M1166.5 718V721M1166.5 724V727M1166.5 730V731M1166.5 732V734M1166.5 737V740M1166.5 743V746M1166.5 749V752M1166.5 755V758M1166.5 761V764M1166.5 767V770M1166.5 773V776M1166.5 779V782M1166.5 785V788M1166.5 791V794M1166.5 797V800M1166.5 803V806M1166.5 809V812M1166.5 815V818M1166.5 821V824M1166.5 827V830M1166.5 833V836M1166.5 839V842M1166.5 845V848M1166.5 851V854M1166.5 857V860M1166.5 863V866M1166.5 869V872M1166.5 875V878M1166.5 881V884" stroke="#acacac" stroke-width="1" fill="none"/>
<rect x="0" y="14" width="1201" height="1" fill="#0000ff"/>
<polyline points="-4.5,55.5 3.5,48.5 10.5,44.5 17.5,30.5 25.5,22.5 32.5,28.5 40.5,28.5 47.5,28.5 55.5,28.5 62.5,30.5 70.5,40.5 77.5,30.5 84.5,45.5 92.5,46.5 100.5,48.5 107.5,55.5 114.5,60.5 122.5,63.5 130.5,64.5 136.5,62.5 144.5,59.5 152.5,46.5 159.5,32.5 166.5,44.5 174.5,52.5 182.5,60.5 188.5,54.5 196.5,60.5 204.5,54.5 212.5,51.5 218.5,52.5 226.5,54.5 234.5,54.5 241.5,49.5 248.5,54.5 256.5,54.5 264.5,52.5 271.5,55.5 278.5,57.5 286.5,58.5 293.5,50.5 301.5,75.5 308.5,71.5 316.5,57.5 323.5,68.5 331.5,77.5 338.5,80.5 345.5,58.5 353.5,49.5 361.5,48.5 368.5,46.5 375.5,42.5 383.5,64.5 391.5,69.5 397.5,55.5 405.5,48.5 413.5,54.5 421.5,49.5 427.5,48.5 435.5,53.5 443.5,51.5 450.5,48.5 457.5,49.5 465.5,38.5 473.5,27.5 479.5,21.5 487.5,23.5 495.5,10.5 502.5,8.5 509.5,9.5 517.5,36.5 525.5,42.5 532.5,52.5 539.5,38.5 547.5,54.5 554.5,48.5 562.5,41.5 569.5,37.5 577.5,35.5 584.5,37.5 592.5,35.5 599.5,27.5 606.5,35.5 614.5,29.5 622.5,30.5 629.5,27.5 636.5,23.5 644.5,34.5 652.5,31.5 658.5,17.5 666.5,12.5 674.5,30.5 682.5,29.5 688.5,35.5 696.5,33.5 704.5,42.5 711.5,39.5 718.5,40.5 726.5,59.5 734.5,61.5 741.5,51.5 748.5,47.5 756.5,35.5 763.5,27.5 770.5,32.5 778.5,38.5 786.5,45.5 793.5,37.5 800.5,22.5 808.5,20.5 815.5,18.5 823.5,18.5 830.5,14.5 838.5,43.5 845.5,36.5 853.5,35.5 860.5,36.5 867.5,29.5 875.5,36.5 883.5,32.5 890.5,21.5 897.5,34.5 905.5,38.5 913.5,58.5 919.5,59.5 927.5,56.5 935.5,55.5 943.5,44.5 949.5,51.5 957.5,51.5 965.5,72.5 972.5,80.5 979.5,61.5 987.5,56.5 995.5,46.5 1002.5,50.5 1009.5,45.5 1017.5,39.5 1024.5,41.5 1031.5,31.5 1039.5,22.5 1047.5,20.5 1054.5,32.5 1061.5,23.5 1069.5,25.5 1076.5,23.5 1084.5,28.5 1091.5,16.5 1099.5,29.5 1106.5,27.5 1114.5,32.5" fill="none" stroke="#ff0000" stroke-width="1.15" stroke-linejoin="round" shape-rendering="geometricPrecision"/>
<rect x="3" y="558" width="1" height="61" fill="#0000ff"/>
<rect x="3" y="675" width="1" height="3" fill="#0000ff"/>
<rect x="1" y="619" width="5" height="1" fill="#0000ff"/>
<rect x="1" y="674" width="5" height="1" fill="#0000ff"/>
<rect x="1" y="619" width="1" height="56" fill="#0000ff"/>
<rect x="5" y="619" width="1" height="56" fill="#0000ff"/>
<rect x="10" y="601" width="1" height="2" fill="#0000ff"/>
<rect x="7" y="603" width="6" height="1" fill="#0000ff"/>
<rect x="7" y="646" width="6" height="1" fill="#0000ff"/>
<rect x="7" y="603" width="1" height="44" fill="#0000ff"/>
<rect x="12" y="603" width="1" height="44" fill="#0000ff"/>
<rect x="17" y="543" width="1" height="3" fill="#0000ff"/>
<rect x="17" y="590" width="1" height="4" fill="#0000ff"/>
<rect x="14" y="546" width="6" height="1" fill="#0000ff"/>
<rect x="14" y="589" width="6" height="1" fill="#0000ff"/>
<rect x="14" y="546" width="1" height="44" fill="#0000ff"/>
<rect x="19" y="546" width="1" height="44" fill="#0000ff"/>
<rect x="25" y="495" width="1" height="3" fill="#0000ff"/>
<rect x="23" y="498" width="5" height="1" fill="#0000ff"/>
<rect x="23" y="646" width="5" height="1" fill="#0000ff"/>
<rect x="23" y="498" width="1" height="149" fill="#0000ff"/>
<rect x="27" y="498" width="1" height="149" fill="#0000ff"/>
<rect x="32" y="490" width="1" height="42" fill="#000000"/>
<rect x="29" y="501" width="6" height="20" fill="#000000"/>
<rect x="40" y="500" width="1" height="37" fill="#0000ff"/>
<rect x="37" y="516" width="6" height="3" fill="#0000ff"/>
<rect x="47" y="513" width="1" height="31" fill="#0000ff"/>
<rect x="45" y="516" width="6" height="2" fill="#0000ff"/>
<rect x="55" y="485" width="1" height="33" fill="#0000ff"/>
<rect x="54" y="517" width="5" height="1" fill="#0000ff"/>
<rect x="62" y="502" width="1" height="26" fill="#000000"/>
<rect x="59" y="521" width="6" height="3" fill="#000000"/>
<rect x="70" y="519" width="1" height="35" fill="#000000"/>
<rect x="67" y="521" width="6" height="29" fill="#000000"/>
<rect x="77" y="507" width="1" height="2" fill="#0000ff"/>
<rect x="77" y="555" width="1" height="15" fill="#0000ff"/>
<rect x="75" y="509" width="5" height="1" fill="#0000ff"/>
<rect x="75" y="554" width="5" height="1" fill="#0000ff"/>
<rect x="75" y="509" width="1" height="46" fill="#0000ff"/>
<rect x="79" y="509" width="1" height="46" fill="#0000ff"/>
<rect x="84" y="510" width="1" height="42" fill="#000000"/>
<rect x="82" y="510" width="6" height="41" fill="#000000"/>
<rect x="92" y="509" width="1" height="65" fill="#000000"/>
<rect x="89" y="530" width="6" height="24" fill="#000000"/>
<rect x="100" y="531" width="1" height="31" fill="#000000"/>
<rect x="97" y="547" width="6" height="15" fill="#000000"/>
<rect x="107" y="547" width="1" height="35" fill="#000000"/>
<rect x="106" y="553" width="5" height="29" fill="#000000"/>
<rect x="114" y="573" width="1" height="26" fill="#000000"/>
<rect x="112" y="582" width="5" height="17" fill="#000000"/>
<rect x="122" y="586" width="1" height="20" fill="#000000"/>
<rect x="119" y="586" width="6" height="20" fill="#000000"/>
<rect x="130" y="598" width="1" height="24" fill="#000000"/>
<rect x="128" y="608" width="4" height="2" fill="#000000"/>
<rect x="136" y="594" width="1" height="29" fill="#0000ff"/>
<rect x="134" y="594" width="6" height="11" fill="#0000ff"/>
<rect x="144" y="585" width="1" height="42" fill="#0000ff"/>
<rect x="142" y="585" width="5" height="14" fill="#0000ff"/>
<rect x="152" y="592" width="1" height="21" fill="#0000ff"/>
<rect x="149" y="561" width="6" height="1" fill="#0000ff"/>
<rect x="149" y="591" width="6" height="1" fill="#0000ff"/>
<rect x="149" y="561" width="1" height="31" fill="#0000ff"/>
<rect x="154" y="561" width="1" height="31" fill="#0000ff"/>
<rect x="159" y="515" width="1" height="6" fill="#0000ff"/>
<rect x="159" y="558" width="1" height="9" fill="#0000ff"/>
<rect x="158" y="521" width="4" height="1" fill="#0000ff"/>
<rect x="158" y="557" width="4" height="1" fill="#0000ff"/>
<rect x="158" y="521" width="1" height="37" fill="#0000ff"/>
<rect x="161" y="521" width="1" height="37" fill="#0000ff"/>
<rect x="166" y="521" width="1" height="35" fill="#000000"/>
<rect x="164" y="521" width="6" height="30" fill="#000000"/>
<rect x="174" y="527" width="1" height="71" fill="#000000"/>
<rect x="172" y="556" width="5" height="17" fill="#000000"/>
<rect x="182" y="528" width="1" height="75" fill="#000000"/>
<rect x="180" y="556" width="5" height="43" fill="#000000"/>
<rect x="188" y="566" width="1" height="39" fill="#0000ff"/>
<rect x="186" y="566" width="6" height="11" fill="#0000ff"/>
<rect x="196" y="554" width="1" height="45" fill="#000000"/>
<rect x="194" y="556" width="6" height="43" fill="#000000"/>
<rect x="204" y="562" width="1" height="37" fill="#0000ff"/>
<rect x="202" y="563" width="5" height="19" fill="#0000ff"/>
<rect x="212" y="570" width="1" height="2" fill="#0000ff"/>
<rect x="212" y="577" width="1" height="11" fill="#0000ff"/>
<rect x="210" y="572" width="5" height="1" fill="#0000ff"/>
<rect x="210" y="576" width="5" height="1" fill="#0000ff"/>
<rect x="210" y="572" width="1" height="5" fill="#0000ff"/>
<rect x="214" y="572" width="1" height="5" fill="#0000ff"/>
<rect x="218" y="556" width="1" height="29" fill="#000000"/>
<rect x="216" y="575" width="5" height="2" fill="#000000"/>
<rect x="226" y="556" width="1" height="33" fill="#000000"/>
<rect x="224" y="576" width="6" height="6" fill="#000000"/>
<rect x="234" y="565" width="1" height="49" fill="#000000"/>
<rect x="232" y="576" width="5" height="6" fill="#000000"/>
<rect x="241" y="554" width="1" height="14" fill="#0000ff"/>
<rect x="241" y="577" width="1" height="14" fill="#0000ff"/>
<rect x="238" y="568" width="6" height="1" fill="#0000ff"/>
<rect x="238" y="576" width="6" height="1" fill="#0000ff"/>
<rect x="238" y="568" width="1" height="9" fill="#0000ff"/>
<rect x="243" y="568" width="1" height="9" fill="#0000ff"/>
<rect x="248" y="562" width="1" height="23" fill="#000000"/>
<rect x="246" y="564" width="6" height="18" fill="#000000"/>
<rect x="256" y="556" width="1" height="42" fill="#000000"/>
<rect x="254" y="564" width="6" height="18" fill="#000000"/>
<rect x="264" y="565" width="1" height="23" fill="#0000ff"/>
<rect x="262" y="577" width="5" height="1" fill="#0000ff"/>
<rect x="271" y="566" width="1" height="25" fill="#000000"/>
<rect x="268" y="577" width="6" height="5" fill="#000000"/>
<rect x="278" y="558" width="1" height="33" fill="#000000"/>
<rect x="276" y="577" width="6" height="9" fill="#000000"/>
<rect x="286" y="568" width="1" height="21" fill="#000000"/>
<rect x="285" y="577" width="5" height="12" fill="#000000"/>
<rect x="293" y="554" width="1" height="19" fill="#0000ff"/>
<rect x="290" y="573" width="6" height="1" fill="#0000ff"/>
<rect x="290" y="589" width="6" height="1" fill="#0000ff"/>
<rect x="290" y="573" width="1" height="17" fill="#0000ff"/>
<rect x="295" y="573" width="1" height="17" fill="#0000ff"/>
<rect x="301" y="573" width="1" height="55" fill="#000000"/>
<rect x="298" y="580" width="6" height="48" fill="#000000"/>
<rect x="308" y="614" width="1" height="43" fill="#0000ff"/>
<rect x="306" y="614" width="6" height="8" fill="#0000ff"/>
<rect x="316" y="588" width="1" height="5" fill="#0000ff"/>
<rect x="316" y="624" width="1" height="6" fill="#0000ff"/>
<rect x="314" y="593" width="5" height="1" fill="#0000ff"/>
<rect x="314" y="623" width="5" height="1" fill="#0000ff"/>
<rect x="314" y="593" width="1" height="31" fill="#0000ff"/>
<rect x="318" y="593" width="1" height="31" fill="#0000ff"/>
<rect x="323" y="588" width="1" height="31" fill="#000000"/>
<rect x="320" y="619" width="6" height="1" fill="#000000"/>
<rect x="320" y="638" width="6" height="1" fill="#000000"/>
<rect x="320" y="619" width="1" height="20" fill="#000000"/>
<rect x="325" y="619" width="1" height="20" fill="#000000"/>
<rect x="331" y="610" width="1" height="41" fill="#000000"/>
<rect x="328" y="624" width="6" height="22" fill="#000000"/>
<rect x="338" y="628" width="1" height="37" fill="#000000"/>
<rect x="337" y="646" width="5" height="11" fill="#000000"/>
<rect x="345" y="593" width="1" height="19" fill="#0000ff"/>
<rect x="342" y="612" width="6" height="1" fill="#0000ff"/>
<rect x="342" y="640" width="6" height="1" fill="#0000ff"/>
<rect x="342" y="612" width="1" height="29" fill="#0000ff"/>
<rect x="347" y="612" width="1" height="29" fill="#0000ff"/>
<rect x="353" y="576" width="1" height="31" fill="#0000ff"/>
<rect x="350" y="580" width="6" height="9" fill="#0000ff"/>
<rect x="361" y="574" width="1" height="10" fill="#0000ff"/>
<rect x="358" y="584" width="6" height="1" fill="#0000ff"/>
<rect x="358" y="603" width="6" height="1" fill="#0000ff"/>
<rect x="358" y="584" width="1" height="20" fill="#0000ff"/>
<rect x="363" y="584" width="1" height="20" fill="#0000ff"/>
<rect x="368" y="550" width="1" height="30" fill="#0000ff"/>
<rect x="366" y="580" width="5" height="1" fill="#0000ff"/>
<rect x="366" y="586" width="5" height="1" fill="#0000ff"/>
<rect x="366" y="580" width="1" height="7" fill="#0000ff"/>
<rect x="370" y="580" width="1" height="7" fill="#0000ff"/>
<rect x="375" y="554" width="1" height="15" fill="#0000ff"/>
<rect x="375" y="573" width="1" height="6" fill="#0000ff"/>
<rect x="372" y="569" width="6" height="1" fill="#0000ff"/>
<rect x="372" y="572" width="6" height="1" fill="#0000ff"/>
<rect x="372" y="569" width="1" height="4" fill="#0000ff"/>
<rect x="377" y="569" width="1" height="4" fill="#0000ff"/>
<rect x="383" y="560" width="1" height="72" fill="#000000"/>
<rect x="380" y="566" width="6" height="56" fill="#000000"/>
<rect x="391" y="618" width="1" height="28" fill="#000000"/>
<rect x="389" y="627" width="5" height="14" fill="#000000"/>
<rect x="397" y="599" width="1" height="3" fill="#0000ff"/>
<rect x="394" y="602" width="6" height="1" fill="#0000ff"/>
<rect x="394" y="639" width="6" height="1" fill="#0000ff"/>
<rect x="394" y="602" width="1" height="38" fill="#0000ff"/>
<rect x="399" y="602" width="1" height="38" fill="#0000ff"/>
<rect x="405" y="605" width="1" height="1" fill="#0000ff"/>
<rect x="402" y="584" width="6" height="1" fill="#0000ff"/>
<rect x="402" y="604" width="6" height="1" fill="#0000ff"/>
<rect x="402" y="584" width="1" height="21" fill="#0000ff"/>
<rect x="407" y="584" width="1" height="21" fill="#0000ff"/>
<rect x="413" y="582" width="1" height="24" fill="#000000"/>
<rect x="410" y="582" width="6" height="21" fill="#000000"/>
<rect x="421" y="567" width="1" height="21" fill="#0000ff"/>
<rect x="419" y="588" width="4" height="1" fill="#0000ff"/>
<rect x="419" y="605" width="4" height="1" fill="#0000ff"/>
<rect x="419" y="588" width="1" height="18" fill="#0000ff"/>
<rect x="422" y="588" width="1" height="18" fill="#0000ff"/>
<rect x="427" y="579" width="1" height="5" fill="#0000ff"/>
<rect x="427" y="596" width="1" height="3" fill="#0000ff"/>
<rect x="424" y="584" width="6" height="1" fill="#0000ff"/>
<rect x="424" y="595" width="6" height="1" fill="#0000ff"/>
<rect x="424" y="584" width="1" height="12" fill="#0000ff"/>
<rect x="429" y="584" width="1" height="12" fill="#0000ff"/>
<rect x="435" y="573" width="1" height="25" fill="#000000"/>
<rect x="433" y="590" width="5" height="8" fill="#000000"/>
<rect x="443" y="587" width="1" height="28" fill="#0000ff"/>
<rect x="441" y="588" width="5" height="2" fill="#0000ff"/>
<rect x="450" y="563" width="1" height="19" fill="#0000ff"/>
<rect x="450" y="599" width="1" height="1" fill="#0000ff"/>
<rect x="447" y="582" width="5" height="1" fill="#0000ff"/>
<rect x="447" y="598" width="5" height="1" fill="#0000ff"/>
<rect x="447" y="582" width="1" height="17" fill="#0000ff"/>
<rect x="451" y="582" width="1" height="17" fill="#0000ff"/>
<rect x="457" y="569" width="1" height="25" fill="#000000"/>
<rect x="455" y="582" width="6" height="4" fill="#000000"/>
<rect x="465" y="529" width="1" height="27" fill="#0000ff"/>
<rect x="465" y="584" width="1" height="4" fill="#0000ff"/>
<rect x="462" y="556" width="6" height="1" fill="#0000ff"/>
<rect x="462" y="583" width="6" height="1" fill="#0000ff"/>
<rect x="462" y="556" width="1" height="28" fill="#0000ff"/>
<rect x="467" y="556" width="1" height="28" fill="#0000ff"/>
<rect x="473" y="513" width="1" height="14" fill="#0000ff"/>
<rect x="473" y="562" width="1" height="4" fill="#0000ff"/>
<rect x="471" y="527" width="5" height="1" fill="#0000ff"/>
<rect x="471" y="561" width="5" height="1" fill="#0000ff"/>
<rect x="471" y="527" width="1" height="35" fill="#0000ff"/>
<rect x="475" y="527" width="1" height="35" fill="#0000ff"/>
<rect x="479" y="491" width="1" height="13" fill="#0000ff"/>
<rect x="477" y="504" width="5" height="1" fill="#0000ff"/>
<rect x="477" y="545" width="5" height="1" fill="#0000ff"/>
<rect x="477" y="504" width="1" height="42" fill="#0000ff"/>
<rect x="481" y="504" width="1" height="42" fill="#0000ff"/>
<rect x="487" y="490" width="1" height="19" fill="#000000"/>
<rect x="484" y="509" width="6" height="1" fill="#000000"/>
<rect x="484" y="534" width="6" height="1" fill="#000000"/>
<rect x="484" y="509" width="1" height="26" fill="#000000"/>
<rect x="489" y="509" width="1" height="26" fill="#000000"/>
<rect x="495" y="425" width="1" height="27" fill="#0000ff"/>
<rect x="493" y="452" width="5" height="1" fill="#0000ff"/>
<rect x="493" y="493" width="5" height="1" fill="#0000ff"/>
<rect x="493" y="452" width="1" height="42" fill="#0000ff"/>
<rect x="497" y="452" width="1" height="42" fill="#0000ff"/>
<rect x="502" y="436" width="1" height="39" fill="#0000ff"/>
<rect x="499" y="438" width="6" height="2" fill="#0000ff"/>
<rect x="509" y="433" width="1" height="8" fill="#000000"/>
<rect x="509" y="452" width="1" height="9" fill="#000000"/>
<rect x="507" y="441" width="5" height="1" fill="#000000"/>
<rect x="507" y="451" width="5" height="1" fill="#000000"/>
<rect x="507" y="441" width="1" height="11" fill="#000000"/>
<rect x="511" y="441" width="1" height="11" fill="#000000"/>
<rect x="517" y="438" width="1" height="62" fill="#000000"/>
<rect x="515" y="438" width="6" height="59" fill="#000000"/>
<rect x="525" y="490" width="1" height="44" fill="#000000"/>
<rect x="523" y="496" width="5" height="17" fill="#000000"/>
<rect x="532" y="508" width="1" height="58" fill="#000000"/>
<rect x="529" y="518" width="6" height="24" fill="#000000"/>
<rect x="539" y="472" width="1" height="20" fill="#0000ff"/>
<rect x="539" y="541" width="1" height="14" fill="#0000ff"/>
<rect x="537" y="492" width="5" height="1" fill="#0000ff"/>
<rect x="537" y="540" width="5" height="1" fill="#0000ff"/>
<rect x="537" y="492" width="1" height="49" fill="#0000ff"/>
<rect x="541" y="492" width="1" height="49" fill="#0000ff"/>
<rect x="547" y="485" width="1" height="60" fill="#000000"/>
<rect x="546" y="502" width="5" height="43" fill="#000000"/>
<rect x="554" y="521" width="1" height="6" fill="#0000ff"/>
<rect x="554" y="537" width="1" height="23" fill="#0000ff"/>
<rect x="551" y="527" width="6" height="1" fill="#0000ff"/>
<rect x="551" y="536" width="6" height="1" fill="#0000ff"/>
<rect x="551" y="527" width="1" height="10" fill="#0000ff"/>
<rect x="556" y="527" width="1" height="10" fill="#0000ff"/>
<rect x="562" y="490" width="1" height="4" fill="#0000ff"/>
<rect x="562" y="531" width="1" height="30" fill="#0000ff"/>
<rect x="559" y="494" width="6" height="1" fill="#0000ff"/>
<rect x="559" y="530" width="6" height="1" fill="#0000ff"/>
<rect x="559" y="494" width="1" height="37" fill="#0000ff"/>
<rect x="564" y="494" width="1" height="37" fill="#0000ff"/>
<rect x="569" y="478" width="1" height="3" fill="#0000ff"/>
<rect x="566" y="481" width="6" height="1" fill="#0000ff"/>
<rect x="566" y="510" width="6" height="1" fill="#0000ff"/>
<rect x="566" y="481" width="1" height="30" fill="#0000ff"/>
<rect x="571" y="481" width="1" height="30" fill="#0000ff"/>
<rect x="577" y="467" width="1" height="5" fill="#0000ff"/>
<rect x="577" y="486" width="1" height="37" fill="#0000ff"/>
<rect x="575" y="472" width="5" height="1" fill="#0000ff"/>
<rect x="575" y="485" width="5" height="1" fill="#0000ff"/>
<rect x="575" y="472" width="1" height="14" fill="#0000ff"/>
<rect x="579" y="472" width="1" height="14" fill="#0000ff"/>
<rect x="584" y="458" width="1" height="19" fill="#000000"/>
<rect x="584" y="493" width="1" height="2" fill="#000000"/>
<rect x="581" y="477" width="6" height="1" fill="#000000"/>
<rect x="581" y="492" width="6" height="1" fill="#000000"/>
<rect x="581" y="477" width="1" height="16" fill="#000000"/>
<rect x="586" y="477" width="1" height="16" fill="#000000"/>
<rect x="592" y="450" width="1" height="19" fill="#0000ff"/>
<rect x="592" y="478" width="1" height="11" fill="#0000ff"/>
<rect x="589" y="469" width="6" height="1" fill="#0000ff"/>
<rect x="589" y="477" width="6" height="1" fill="#0000ff"/>
<rect x="589" y="469" width="1" height="9" fill="#0000ff"/>
<rect x="594" y="469" width="1" height="9" fill="#0000ff"/>
<rect x="599" y="426" width="1" height="13" fill="#0000ff"/>
<rect x="599" y="458" width="1" height="13" fill="#0000ff"/>
<rect x="597" y="439" width="5" height="1" fill="#0000ff"/>
<rect x="597" y="457" width="5" height="1" fill="#0000ff"/>
<rect x="597" y="439" width="1" height="19" fill="#0000ff"/>
<rect x="601" y="439" width="1" height="19" fill="#0000ff"/>
<rect x="606" y="433" width="1" height="34" fill="#000000"/>
<rect x="604" y="438" width="6" height="23" fill="#000000"/>
<rect x="614" y="427" width="1" height="10" fill="#0000ff"/>
<rect x="614" y="462" width="1" height="1" fill="#0000ff"/>
<rect x="611" y="437" width="6" height="1" fill="#0000ff"/>
<rect x="611" y="461" width="6" height="1" fill="#0000ff"/>
<rect x="611" y="437" width="1" height="25" fill="#0000ff"/>
<rect x="616" y="437" width="1" height="25" fill="#0000ff"/>
<rect x="622" y="395" width="1" height="51" fill="#000000"/>
<rect x="619" y="422" width="6" height="15" fill="#000000"/>
<rect x="629" y="414" width="1" height="14" fill="#0000ff"/>
<rect x="629" y="438" width="1" height="15" fill="#0000ff"/>
<rect x="627" y="428" width="5" height="1" fill="#0000ff"/>
<rect x="627" y="437" width="5" height="1" fill="#0000ff"/>
<rect x="627" y="428" width="1" height="10" fill="#0000ff"/>
<rect x="631" y="428" width="1" height="10" fill="#0000ff"/>
<rect x="636" y="408" width="1" height="37" fill="#0000ff"/>
<rect x="633" y="416" width="6" height="2" fill="#0000ff"/>
<rect x="644" y="394" width="1" height="43" fill="#000000"/>
<rect x="641" y="410" width="6" height="27" fill="#000000"/>
<rect x="652" y="427" width="1" height="43" fill="#0000ff"/>
<rect x="650" y="428" width="5" height="1" fill="#0000ff"/>
<rect x="658" y="368" width="1" height="8" fill="#0000ff"/>
<rect x="658" y="424" width="1" height="17" fill="#0000ff"/>
<rect x="655" y="376" width="6" height="1" fill="#0000ff"/>
<rect x="655" y="423" width="6" height="1" fill="#0000ff"/>
<rect x="655" y="376" width="1" height="48" fill="#0000ff"/>
<rect x="660" y="376" width="1" height="48" fill="#0000ff"/>
<rect x="666" y="346" width="1" height="5" fill="#0000ff"/>
<rect x="663" y="351" width="6" height="1" fill="#0000ff"/>
<rect x="663" y="373" width="6" height="1" fill="#0000ff"/>
<rect x="663" y="351" width="1" height="23" fill="#0000ff"/>
<rect x="668" y="351" width="1" height="23" fill="#0000ff"/>
<rect x="674" y="348" width="1" height="47" fill="#000000"/>
<rect x="671" y="355" width="6" height="38" fill="#000000"/>
<rect x="682" y="367" width="1" height="33" fill="#0000ff"/>
<rect x="680" y="385" width="5" height="1" fill="#0000ff"/>
<rect x="688" y="384" width="1" height="50" fill="#000000"/>
<rect x="686" y="384" width="6" height="17" fill="#000000"/>
<rect x="696" y="376" width="1" height="18" fill="#0000ff"/>
<rect x="696" y="398" width="1" height="16" fill="#0000ff"/>
<rect x="693" y="394" width="6" height="1" fill="#0000ff"/>
<rect x="693" y="397" width="6" height="1" fill="#0000ff"/>
<rect x="693" y="394" width="1" height="4" fill="#0000ff"/>
<rect x="698" y="394" width="1" height="4" fill="#0000ff"/>
<rect x="704" y="389" width="1" height="38" fill="#000000"/>
<rect x="702" y="393" width="5" height="21" fill="#000000"/>
<rect x="711" y="400" width="1" height="19" fill="#0000ff"/>
<rect x="708" y="405" width="6" height="3" fill="#0000ff"/>
<rect x="718" y="405" width="1" height="4" fill="#000000"/>
<rect x="718" y="421" width="1" height="21" fill="#000000"/>
<rect x="715" y="409" width="6" height="1" fill="#000000"/>
<rect x="715" y="420" width="6" height="1" fill="#000000"/>
<rect x="715" y="409" width="1" height="12" fill="#000000"/>
<rect x="720" y="409" width="1" height="12" fill="#000000"/>
<rect x="726" y="396" width="1" height="65" fill="#000000"/>
<rect x="724" y="421" width="5" height="36" fill="#000000"/>
<rect x="734" y="442" width="1" height="31" fill="#000000"/>
<rect x="732" y="456" width="5" height="6" fill="#000000"/>
<rect x="741" y="433" width="1" height="3" fill="#0000ff"/>
<rect x="741" y="443" width="1" height="17" fill="#0000ff"/>
<rect x="738" y="436" width="5" height="1" fill="#0000ff"/>
<rect x="738" y="442" width="5" height="1" fill="#0000ff"/>
<rect x="738" y="436" width="1" height="7" fill="#0000ff"/>
<rect x="742" y="436" width="1" height="7" fill="#0000ff"/>
<rect x="748" y="445" width="1" height="11" fill="#0000ff"/>
<rect x="745" y="426" width="6" height="1" fill="#0000ff"/>
<rect x="745" y="444" width="6" height="1" fill="#0000ff"/>
<rect x="745" y="426" width="1" height="19" fill="#0000ff"/>
<rect x="750" y="426" width="1" height="19" fill="#0000ff"/>
<rect x="756" y="438" width="1" height="13" fill="#0000ff"/>
<rect x="754" y="395" width="5" height="1" fill="#0000ff"/>
<rect x="754" y="437" width="5" height="1" fill="#0000ff"/>
<rect x="754" y="395" width="1" height="43" fill="#0000ff"/>
<rect x="758" y="395" width="1" height="43" fill="#0000ff"/>
<rect x="763" y="358" width="1" height="6" fill="#0000ff"/>
<rect x="763" y="388" width="1" height="17" fill="#0000ff"/>
<rect x="760" y="364" width="6" height="1" fill="#0000ff"/>
<rect x="760" y="387" width="6" height="1" fill="#0000ff"/>
<rect x="760" y="364" width="1" height="24" fill="#0000ff"/>
<rect x="765" y="364" width="1" height="24" fill="#0000ff"/>
<rect x="770" y="355" width="1" height="31" fill="#000000"/>
<rect x="768" y="361" width="6" height="14" fill="#000000"/>
<rect x="778" y="372" width="1" height="34" fill="#000000"/>
<rect x="776" y="380" width="6" height="7" fill="#000000"/>
<rect x="786" y="386" width="1" height="59" fill="#000000"/>
<rect x="785" y="394" width="4" height="10" fill="#000000"/>
<rect x="793" y="398" width="1" height="15" fill="#0000ff"/>
<rect x="790" y="380" width="6" height="1" fill="#0000ff"/>
<rect x="790" y="397" width="6" height="1" fill="#0000ff"/>
<rect x="790" y="380" width="1" height="18" fill="#0000ff"/>
<rect x="795" y="380" width="1" height="18" fill="#0000ff"/>
<rect x="800" y="317" width="1" height="7" fill="#0000ff"/>
<rect x="798" y="324" width="5" height="1" fill="#0000ff"/>
<rect x="798" y="397" width="5" height="1" fill="#0000ff"/>
<rect x="798" y="324" width="1" height="74" fill="#0000ff"/>
<rect x="802" y="324" width="1" height="74" fill="#0000ff"/>
<rect x="808" y="291" width="1" height="26" fill="#0000ff"/>
<rect x="808" y="339" width="1" height="14" fill="#0000ff"/>
<rect x="806" y="317" width="5" height="1" fill="#0000ff"/>
<rect x="806" y="338" width="5" height="1" fill="#0000ff"/>
<rect x="806" y="317" width="1" height="22" fill="#0000ff"/>
<rect x="810" y="317" width="1" height="22" fill="#0000ff"/>
<rect x="815" y="297" width="1" height="42" fill="#0000ff"/>
<rect x="813" y="309" width="5" height="1" fill="#0000ff"/>
<rect x="823" y="297" width="1" height="28" fill="#0000ff"/>
<rect x="820" y="308" width="6" height="2" fill="#0000ff"/>
<rect x="830" y="288" width="1" height="1" fill="#0000ff"/>
<rect x="830" y="346" width="1" height="17" fill="#0000ff"/>
<rect x="828" y="289" width="5" height="1" fill="#0000ff"/>
<rect x="828" y="345" width="5" height="1" fill="#0000ff"/>
<rect x="828" y="289" width="1" height="57" fill="#0000ff"/>
<rect x="832" y="289" width="1" height="57" fill="#0000ff"/>
<rect x="838" y="296" width="1" height="64" fill="#000000"/>
<rect x="837" y="300" width="5" height="57" fill="#000000"/>
<rect x="845" y="358" width="1" height="2" fill="#0000ff"/>
<rect x="842" y="329" width="6" height="1" fill="#0000ff"/>
<rect x="842" y="357" width="6" height="1" fill="#0000ff"/>
<rect x="842" y="329" width="1" height="29" fill="#0000ff"/>
<rect x="847" y="329" width="1" height="29" fill="#0000ff"/>
<rect x="853" y="319" width="1" height="5" fill="#0000ff"/>
<rect x="850" y="324" width="6" height="1" fill="#0000ff"/>
<rect x="850" y="339" width="6" height="1" fill="#0000ff"/>
<rect x="850" y="324" width="1" height="16" fill="#0000ff"/>
<rect x="855" y="324" width="1" height="16" fill="#0000ff"/>
<rect x="860" y="315" width="1" height="13" fill="#000000"/>
<rect x="860" y="333" width="1" height="6" fill="#000000"/>
<rect x="858" y="328" width="5" height="1" fill="#000000"/>
<rect x="858" y="332" width="5" height="1" fill="#000000"/>
<rect x="858" y="328" width="1" height="5" fill="#000000"/>
<rect x="862" y="328" width="1" height="5" fill="#000000"/>
<rect x="867" y="294" width="1" height="9" fill="#0000ff"/>
<rect x="867" y="315" width="1" height="14" fill="#0000ff"/>
<rect x="864" y="303" width="6" height="1" fill="#0000ff"/>
<rect x="864" y="314" width="6" height="1" fill="#0000ff"/>
<rect x="864" y="303" width="1" height="12" fill="#0000ff"/>
<rect x="869" y="303" width="1" height="12" fill="#0000ff"/>
<rect x="875" y="297" width="1" height="35" fill="#000000"/>
<rect x="872" y="301" width="6" height="18" fill="#000000"/>
<rect x="883" y="304" width="1" height="3" fill="#0000ff"/>
<rect x="883" y="318" width="1" height="11" fill="#0000ff"/>
<rect x="880" y="307" width="6" height="1" fill="#0000ff"/>
<rect x="880" y="317" width="6" height="1" fill="#0000ff"/>
<rect x="880" y="307" width="1" height="11" fill="#0000ff"/>
<rect x="885" y="307" width="1" height="11" fill="#0000ff"/>
<rect x="890" y="309" width="1" height="11" fill="#0000ff"/>
<rect x="888" y="263" width="5" height="1" fill="#0000ff"/>
<rect x="888" y="308" width="5" height="1" fill="#0000ff"/>
<rect x="888" y="263" width="1" height="46" fill="#0000ff"/>
<rect x="892" y="263" width="1" height="46" fill="#0000ff"/>
<rect x="897" y="256" width="1" height="45" fill="#000000"/>
<rect x="895" y="268" width="6" height="27" fill="#000000"/>
<rect x="905" y="286" width="1" height="26" fill="#000000"/>
<rect x="902" y="293" width="6" height="12" fill="#000000"/>
<rect x="913" y="294" width="1" height="76" fill="#000000"/>
<rect x="911" y="311" width="5" height="49" fill="#000000"/>
<rect x="919" y="335" width="1" height="38" fill="#000000"/>
<rect x="917" y="363" width="6" height="1" fill="#000000"/>
<rect x="927" y="333" width="1" height="24" fill="#0000ff"/>
<rect x="927" y="365" width="1" height="7" fill="#0000ff"/>
<rect x="924" y="357" width="6" height="1" fill="#0000ff"/>
<rect x="924" y="364" width="6" height="1" fill="#0000ff"/>
<rect x="924" y="357" width="1" height="8" fill="#0000ff"/>
<rect x="929" y="357" width="1" height="8" fill="#0000ff"/>
<rect x="935" y="343" width="1" height="9" fill="#0000ff"/>
<rect x="935" y="358" width="1" height="35" fill="#0000ff"/>
<rect x="932" y="352" width="6" height="1" fill="#0000ff"/>
<rect x="932" y="357" width="6" height="1" fill="#0000ff"/>
<rect x="932" y="352" width="1" height="6" fill="#0000ff"/>
<rect x="937" y="352" width="1" height="6" fill="#0000ff"/>
<rect x="943" y="320" width="1" height="2" fill="#0000ff"/>
<rect x="941" y="322" width="5" height="1" fill="#0000ff"/>
<rect x="941" y="357" width="5" height="1" fill="#0000ff"/>
<rect x="941" y="322" width="1" height="36" fill="#0000ff"/>
<rect x="945" y="322" width="1" height="36" fill="#0000ff"/>
<rect x="949" y="322" width="1" height="38" fill="#000000"/>
<rect x="947" y="337" width="6" height="4" fill="#000000"/>
<rect x="957" y="325" width="1" height="15" fill="#000000"/>
<rect x="954" y="340" width="6" height="1" fill="#000000"/>
<rect x="954" y="349" width="6" height="1" fill="#000000"/>
<rect x="954" y="340" width="1" height="10" fill="#000000"/>
<rect x="959" y="340" width="1" height="10" fill="#000000"/>
<rect x="965" y="331" width="1" height="72" fill="#000000"/>
<rect x="963" y="349" width="5" height="54" fill="#000000"/>
<rect x="972" y="386" width="1" height="51" fill="#000000"/>
<rect x="969" y="405" width="6" height="32" fill="#000000"/>
<rect x="979" y="369" width="1" height="15" fill="#0000ff"/>
<rect x="976" y="384" width="6" height="1" fill="#0000ff"/>
<rect x="976" y="429" width="6" height="1" fill="#0000ff"/>
<rect x="976" y="384" width="1" height="46" fill="#0000ff"/>
<rect x="981" y="384" width="1" height="46" fill="#0000ff"/>
<rect x="987" y="353" width="1" height="13" fill="#0000ff"/>
<rect x="987" y="382" width="1" height="5" fill="#0000ff"/>
<rect x="984" y="366" width="6" height="1" fill="#0000ff"/>
<rect x="984" y="381" width="6" height="1" fill="#0000ff"/>
<rect x="984" y="366" width="1" height="16" fill="#0000ff"/>
<rect x="989" y="366" width="1" height="16" fill="#0000ff"/>
<rect x="995" y="358" width="1" height="18" fill="#0000ff"/>
<rect x="993" y="333" width="5" height="1" fill="#0000ff"/>
<rect x="993" y="357" width="5" height="1" fill="#0000ff"/>
<rect x="993" y="333" width="1" height="25" fill="#0000ff"/>
<rect x="997" y="333" width="1" height="25" fill="#0000ff"/>
<rect x="1002" y="329" width="1" height="35" fill="#000000"/>
<rect x="999" y="337" width="6" height="11" fill="#000000"/>
<rect x="1009" y="330" width="1" height="2" fill="#0000ff"/>
<rect x="1009" y="358" width="1" height="3" fill="#0000ff"/>
<rect x="1006" y="332" width="6" height="1" fill="#0000ff"/>
<rect x="1006" y="357" width="6" height="1" fill="#0000ff"/>
<rect x="1006" y="332" width="1" height="26" fill="#0000ff"/>
<rect x="1011" y="332" width="1" height="26" fill="#0000ff"/>
<rect x="1015" y="305" width="5" height="1" fill="#0000ff"/>
<rect x="1015" y="346" width="5" height="1" fill="#0000ff"/>
<rect x="1015" y="305" width="1" height="42" fill="#0000ff"/>
<rect x="1019" y="305" width="1" height="42" fill="#0000ff"/>
<rect x="1024" y="280" width="1" height="39" fill="#000000"/>
<rect x="1021" y="305" width="6" height="9" fill="#000000"/>
<rect x="1031" y="261" width="1" height="16" fill="#0000ff"/>
<rect x="1031" y="285" width="1" height="31" fill="#0000ff"/>
<rect x="1029" y="277" width="5" height="1" fill="#0000ff"/>
<rect x="1029" y="284" width="5" height="1" fill="#0000ff"/>
<rect x="1029" y="277" width="1" height="8" fill="#0000ff"/>
<rect x="1033" y="277" width="1" height="8" fill="#0000ff"/>
<rect x="1039" y="269" width="1" height="8" fill="#0000ff"/>
<rect x="1036" y="237" width="6" height="1" fill="#0000ff"/>
<rect x="1036" y="268" width="6" height="1" fill="#0000ff"/>
<rect x="1036" y="237" width="1" height="32" fill="#0000ff"/>
<rect x="1041" y="237" width="1" height="32" fill="#0000ff"/>
<rect x="1047" y="212" width="1" height="13" fill="#0000ff"/>
<rect x="1047" y="240" width="1" height="8" fill="#0000ff"/>
<rect x="1045" y="225" width="5" height="1" fill="#0000ff"/>
<rect x="1045" y="239" width="5" height="1" fill="#0000ff"/>
<rect x="1045" y="225" width="1" height="15" fill="#0000ff"/>
<rect x="1049" y="225" width="1" height="15" fill="#0000ff"/>
<rect x="1054" y="206" width="1" height="56" fill="#000000"/>
<rect x="1051" y="232" width="6" height="24" fill="#000000"/>
<rect x="1061" y="235" width="1" height="26" fill="#0000ff"/>
<rect x="1059" y="206" width="5" height="1" fill="#0000ff"/>
<rect x="1059" y="234" width="5" height="1" fill="#0000ff"/>
<rect x="1059" y="206" width="1" height="29" fill="#0000ff"/>
<rect x="1063" y="206" width="1" height="29" fill="#0000ff"/>
<rect x="1069" y="187" width="1" height="51" fill="#000000"/>
<rect x="1068" y="196" width="5" height="20" fill="#000000"/>
<rect x="1076" y="202" width="1" height="1" fill="#0000ff"/>
<rect x="1076" y="219" width="1" height="18" fill="#0000ff"/>
<rect x="1073" y="203" width="6" height="1" fill="#0000ff"/>
<rect x="1073" y="218" width="6" height="1" fill="#0000ff"/>
<rect x="1073" y="203" width="1" height="16" fill="#0000ff"/>
<rect x="1078" y="203" width="1" height="16" fill="#0000ff"/>
<rect x="1084" y="191" width="1" height="48" fill="#000000"/>
<rect x="1081" y="218" width="6" height="1" fill="#000000"/>
<rect x="1091" y="151" width="1" height="2" fill="#0000ff"/>
<rect x="1089" y="153" width="5" height="1" fill="#0000ff"/>
<rect x="1089" y="228" width="5" height="1" fill="#0000ff"/>
<rect x="1089" y="153" width="1" height="76" fill="#0000ff"/>
<rect x="1093" y="153" width="1" height="76" fill="#0000ff"/>
<rect x="1099" y="141" width="1" height="51" fill="#000000"/>
<rect x="1098" y="152" width="5" height="40" fill="#000000"/>
<rect x="1106" y="172" width="1" height="31" fill="#0000ff"/>
<rect x="1104" y="172" width="5" height="13" fill="#0000ff"/>
<rect x="1114" y="177" width="1" height="29" fill="#000000"/>
<rect x="1111" y="188" width="6" height="11" fill="#000000"/>
<rect x="0" y="276" width="1201" height="2" fill="#0000ff"/>
<rect x="0" y="436" width="1201" height="2" fill="#0000ff"/>
<rect x="3" y="830" width="1" height="54" fill="#0000ff"/>
<rect x="10" y="840" width="1" height="44" fill="#0000ff"/>
<rect x="17" y="840" width="1" height="44" fill="#0000ff"/>
<rect x="25" y="840" width="1" height="44" fill="#0000ff"/>
<rect x="32" y="872" width="1" height="12" fill="#0000ff"/>
<rect x="40" y="851" width="1" height="33" fill="#0000ff"/>
<rect x="47" y="851" width="1" height="33" fill="#0000ff"/>
<rect x="55" y="858" width="1" height="26" fill="#0000ff"/>
<rect x="62" y="865" width="1" height="19" fill="#0000ff"/>
<rect x="70" y="853" width="1" height="31" fill="#0000ff"/>
<rect x="77" y="830" width="1" height="54" fill="#0000ff"/>
<rect x="84" y="845" width="1" height="39" fill="#0000ff"/>
<rect x="92" y="841" width="1" height="43" fill="#0000ff"/>
<rect x="100" y="781" width="1" height="103" fill="#0000ff"/>
<rect x="107" y="829" width="1" height="55" fill="#0000ff"/>
<rect x="114" y="862" width="1" height="22" fill="#0000ff"/>
<rect x="122" y="868" width="1" height="16" fill="#0000ff"/>
<rect x="130" y="869" width="1" height="15" fill="#0000ff"/>
<rect x="136" y="844" width="1" height="40" fill="#0000ff"/>
<rect x="144" y="851" width="1" height="33" fill="#0000ff"/>
<rect x="152" y="841" width="1" height="43" fill="#0000ff"/>
<rect x="159" y="849" width="1" height="35" fill="#0000ff"/>
<rect x="166" y="861" width="1" height="23" fill="#0000ff"/>
<rect x="174" y="856" width="1" height="28" fill="#0000ff"/>
<rect x="182" y="859" width="1" height="25" fill="#0000ff"/>
<rect x="188" y="858" width="1" height="26" fill="#0000ff"/>
<rect x="196" y="834" width="1" height="50" fill="#0000ff"/>
<rect x="204" y="856" width="1" height="28" fill="#0000ff"/>
<rect x="212" y="840" width="1" height="44" fill="#0000ff"/>
<rect x="218" y="865" width="1" height="19" fill="#0000ff"/>
<rect x="226" y="859" width="1" height="25" fill="#0000ff"/>
<rect x="234" y="826" width="1" height="58" fill="#0000ff"/>
<rect x="241" y="840" width="1" height="44" fill="#0000ff"/>
<rect x="248" y="858" width="1" height="26" fill="#0000ff"/>
<rect x="256" y="858" width="1" height="26" fill="#0000ff"/>
<rect x="264" y="859" width="1" height="25" fill="#0000ff"/>
<rect x="271" y="855" width="1" height="29" fill="#0000ff"/>
<rect x="278" y="853" width="1" height="31" fill="#0000ff"/>
<rect x="286" y="848" width="1" height="36" fill="#0000ff"/>
<rect x="293" y="847" width="1" height="37" fill="#0000ff"/>
<rect x="301" y="848" width="1" height="36" fill="#0000ff"/>
<rect x="308" y="845" width="1" height="39" fill="#0000ff"/>
<rect x="316" y="851" width="1" height="33" fill="#0000ff"/>
<rect x="323" y="845" width="1" height="39" fill="#0000ff"/>
<rect x="331" y="852" width="1" height="32" fill="#0000ff"/>
<rect x="338" y="841" width="1" height="43" fill="#0000ff"/>
<rect x="345" y="828" width="1" height="56" fill="#0000ff"/>
<rect x="353" y="848" width="1" height="36" fill="#0000ff"/>
<rect x="361" y="827" width="1" height="57" fill="#0000ff"/>
<rect x="368" y="854" width="1" height="30" fill="#0000ff"/>
<rect x="375" y="841" width="1" height="43" fill="#0000ff"/>
<rect x="383" y="849" width="1" height="35" fill="#0000ff"/>
<rect x="391" y="859" width="1" height="25" fill="#0000ff"/>
<rect x="397" y="845" width="1" height="39" fill="#0000ff"/>
<rect x="405" y="861" width="1" height="23" fill="#0000ff"/>
<rect x="413" y="862" width="1" height="22" fill="#0000ff"/>
<rect x="421" y="866" width="1" height="18" fill="#0000ff"/>
<rect x="427" y="857" width="1" height="27" fill="#0000ff"/>
<rect x="435" y="865" width="1" height="19" fill="#0000ff"/>
<rect x="443" y="876" width="1" height="8" fill="#0000ff"/>
<rect x="450" y="839" width="1" height="45" fill="#0000ff"/>
<rect x="457" y="864" width="1" height="20" fill="#0000ff"/>
<rect x="465" y="844" width="1" height="40" fill="#0000ff"/>
<rect x="473" y="845" width="1" height="39" fill="#0000ff"/>
<rect x="479" y="862" width="1" height="22" fill="#0000ff"/>
<rect x="487" y="844" width="1" height="40" fill="#0000ff"/>
<rect x="495" y="814" width="1" height="70" fill="#0000ff"/>
<rect x="502" y="834" width="1" height="50" fill="#0000ff"/>
<rect x="509" y="832" width="1" height="52" fill="#0000ff"/>
<rect x="517" y="843" width="1" height="41" fill="#0000ff"/>
<rect x="525" y="841" width="1" height="43" fill="#0000ff"/>
<rect x="532" y="826" width="1" height="58" fill="#0000ff"/>
<rect x="539" y="845" width="1" height="39" fill="#0000ff"/>
<rect x="547" y="850" width="1" height="34" fill="#0000ff"/>
<rect x="554" y="841" width="1" height="43" fill="#0000ff"/>
<rect x="562" y="821" width="1" height="63" fill="#0000ff"/>
<rect x="569" y="848" width="1" height="36" fill="#0000ff"/>
<rect x="577" y="850" width="1" height="34" fill="#0000ff"/>
<rect x="584" y="817" width="1" height="67" fill="#0000ff"/>
<rect x="592" y="867" width="1" height="17" fill="#0000ff"/>
<rect x="599" y="841" width="1" height="43" fill="#0000ff"/>
<rect x="606" y="865" width="1" height="19" fill="#0000ff"/>
<rect x="614" y="838" width="1" height="46" fill="#0000ff"/>
<rect x="622" y="866" width="1" height="18" fill="#0000ff"/>
<rect x="629" y="849" width="1" height="35" fill="#0000ff"/>
<rect x="636" y="837" width="1" height="47" fill="#0000ff"/>
<rect x="644" y="804" width="1" height="80" fill="#0000ff"/>
<rect x="652" y="840" width="1" height="44" fill="#0000ff"/>
<rect x="658" y="835" width="1" height="49" fill="#0000ff"/>
<rect x="666" y="840" width="1" height="44" fill="#0000ff"/>
<rect x="674" y="851" width="1" height="33" fill="#0000ff"/>
<rect x="682" y="840" width="1" height="44" fill="#0000ff"/>
<rect x="688" y="844" width="1" height="40" fill="#0000ff"/>
<rect x="696" y="838" width="1" height="46" fill="#0000ff"/>
<rect x="704" y="868" width="1" height="16" fill="#0000ff"/>
<rect x="711" y="848" width="1" height="36" fill="#0000ff"/>
<rect x="718" y="849" width="1" height="35" fill="#0000ff"/>
<rect x="726" y="853" width="1" height="31" fill="#0000ff"/>
<rect x="734" y="854" width="1" height="30" fill="#0000ff"/>
<rect x="741" y="841" width="1" height="43" fill="#0000ff"/>
<rect x="748" y="860" width="1" height="24" fill="#0000ff"/>
<rect x="756" y="852" width="1" height="32" fill="#0000ff"/>
<rect x="763" y="855" width="1" height="29" fill="#0000ff"/>
<rect x="770" y="860" width="1" height="24" fill="#0000ff"/>
<rect x="778" y="849" width="1" height="35" fill="#0000ff"/>
<rect x="786" y="822" width="1" height="62" fill="#0000ff"/>
<rect x="793" y="846" width="1" height="38" fill="#0000ff"/>
<rect x="800" y="824" width="1" height="60" fill="#0000ff"/>
<rect x="808" y="827" width="1" height="57" fill="#0000ff"/>
<rect x="815" y="811" width="1" height="73" fill="#0000ff"/>
<rect x="823" y="843" width="1" height="41" fill="#0000ff"/>
<rect x="830" y="839" width="1" height="45" fill="#0000ff"/>
<rect x="838" y="837" width="1" height="47" fill="#0000ff"/>
<rect x="845" y="848" width="1" height="36" fill="#0000ff"/>
<rect x="853" y="865" width="1" height="19" fill="#0000ff"/>
<rect x="860" y="852" width="1" height="32" fill="#0000ff"/>
<rect x="867" y="844" width="1" height="40" fill="#0000ff"/>
<rect x="875" y="862" width="1" height="22" fill="#0000ff"/>
<rect x="883" y="870" width="1" height="14" fill="#0000ff"/>
<rect x="890" y="854" width="1" height="30" fill="#0000ff"/>
<rect x="897" y="859" width="1" height="25" fill="#0000ff"/>
<rect x="905" y="866" width="1" height="18" fill="#0000ff"/>
<rect x="913" y="800" width="1" height="84" fill="#0000ff"/>
<rect x="919" y="827" width="1" height="57" fill="#0000ff"/>
<rect x="927" y="846" width="1" height="38" fill="#0000ff"/>
<rect x="935" y="834" width="1" height="50" fill="#0000ff"/>
<rect x="943" y="851" width="1" height="33" fill="#0000ff"/>
<rect x="949" y="870" width="1" height="14" fill="#0000ff"/>
<rect x="957" y="863" width="1" height="21" fill="#0000ff"/>
<rect x="965" y="837" width="1" height="47" fill="#0000ff"/>
<rect x="972" y="828" width="1" height="56" fill="#0000ff"/>
<rect x="979" y="860" width="1" height="24" fill="#0000ff"/>
<rect x="987" y="854" width="1" height="30" fill="#0000ff"/>
<rect x="995" y="870" width="1" height="14" fill="#0000ff"/>
<rect x="1002" y="851" width="1" height="33" fill="#0000ff"/>
<rect x="1009" y="854" width="1" height="30" fill="#0000ff"/>
<rect x="1017" y="845" width="1" height="39" fill="#0000ff"/>
<rect x="1024" y="841" width="1" height="43" fill="#0000ff"/>
<rect x="1031" y="826" width="1" height="58" fill="#0000ff"/>
<rect x="1039" y="839" width="1" height="45" fill="#0000ff"/>
<rect x="1047" y="826" width="1" height="58" fill="#0000ff"/>
<rect x="1054" y="840" width="1" height="44" fill="#0000ff"/>
<rect x="1061" y="802" width="1" height="82" fill="#0000ff"/>
<rect x="1069" y="745" width="1" height="139" fill="#0000ff"/>
<rect x="1076" y="862" width="1" height="22" fill="#0000ff"/>
<rect x="1091" y="858" width="1" height="26" fill="#0000ff"/>
<rect x="1099" y="868" width="1" height="16" fill="#0000ff"/>
<rect x="1106" y="880" width="1" height="4" fill="#0000ff"/>
<rect x="1114" y="879" width="1" height="5" fill="#0000ff"/>
<rect x="0" y="88" width="1250" height="1" fill="#000000"/>
<rect x="0" y="731" width="1201" height="1" fill="#000000"/>
<rect x="1201" y="732" width="8" height="1" fill="#000000"/>
<rect x="0" y="884" width="1202" height="1" fill="#000000"/>
<rect x="0" y="904" width="1202" height="1" fill="#000000"/>
<rect x="1201" y="0" width="1" height="885" fill="#000000"/>
<rect x="1202" y="3" width="3" height="1" fill="#000000"/>
<rect x="1202" y="14" width="7" height="1" fill="#000000"/>
<rect x="1202" y="23" width="3" height="1" fill="#000000"/>
<rect x="1202" y="33" width="7" height="1" fill="#000000"/>
<rect x="1202" y="44" width="3" height="1" fill="#000000"/>
<rect x="1202" y="53" width="7" height="1" fill="#000000"/>
<rect x="1202" y="63" width="3" height="1" fill="#000000"/>
<rect x="1202" y="73" width="7" height="1" fill="#000000"/>
<rect x="1202" y="83" width="3" height="1" fill="#000000"/>
<rect x="1202" y="155" width="7" height="1" fill="#000000"/>
<rect x="1202" y="163" width="3" height="1" fill="#000000"/>
<rect x="1202" y="171" width="3" height="1" fill="#000000"/>
<rect x="1202" y="180" width="3" height="1" fill="#000000"/>
<rect x="1202" y="188" width="3" height="1" fill="#000000"/>
<rect x="1202" y="196" width="7" height="1" fill="#000000"/>
<rect x="1202" y="204" width="3" height="1" fill="#000000"/>
<rect x="1202" y="212" width="3" height="1" fill="#000000"/>
<rect x="1202" y="220" width="3" height="1" fill="#000000"/>
<rect x="1202" y="228" width="3" height="1" fill="#000000"/>
<rect x="1202" y="236" width="7" height="1" fill="#000000"/>
<rect x="1202" y="244" width="3" height="1" fill="#000000"/>
<rect x="1202" y="252" width="3" height="1" fill="#000000"/>
<rect x="1202" y="260" width="3" height="1" fill="#000000"/>
<rect x="1202" y="268" width="3" height="1" fill="#000000"/>
<rect x="1202" y="276" width="7" height="1" fill="#000000"/>
<rect x="1202" y="284" width="3" height="1" fill="#000000"/>
<rect x="1202" y="292" width="3" height="1" fill="#000000"/>
<rect x="1202" y="300" width="3" height="1" fill="#000000"/>
<rect x="1202" y="308" width="3" height="1" fill="#000000"/>
<rect x="1202" y="316" width="7" height="1" fill="#000000"/>
<rect x="1202" y="324" width="3" height="1" fill="#000000"/>
<rect x="1202" y="332" width="3" height="1" fill="#000000"/>
<rect x="1202" y="341" width="3" height="1" fill="#000000"/>
<rect x="1202" y="349" width="3" height="1" fill="#000000"/>
<rect x="1202" y="357" width="7" height="1" fill="#000000"/>
<rect x="1202" y="365" width="3" height="1" fill="#000000"/>
<rect x="1202" y="373" width="3" height="1" fill="#000000"/>
<rect x="1202" y="381" width="3" height="1" fill="#000000"/>
<rect x="1202" y="389" width="3" height="1" fill="#000000"/>
<rect x="1202" y="397" width="7" height="1" fill="#000000"/>
<rect x="1202" y="405" width="3" height="1" fill="#000000"/>
<rect x="1202" y="413" width="3" height="1" fill="#000000"/>
<rect x="1202" y="421" width="3" height="1" fill="#000000"/>
<rect x="1202" y="429" width="3" height="1" fill="#000000"/>
<rect x="1202" y="437" width="7" height="1" fill="#000000"/>
<rect x="1202" y="445" width="3" height="1" fill="#000000"/>
<rect x="1202" y="453" width="3" height="1" fill="#000000"/>
<rect x="1202" y="461" width="3" height="1" fill="#000000"/>
<rect x="1202" y="469" width="3" height="1" fill="#000000"/>
<rect x="1202" y="477" width="7" height="1" fill="#000000"/>
<rect x="1202" y="485" width="3" height="1" fill="#000000"/>
<rect x="1202" y="493" width="3" height="1" fill="#000000"/>
<rect x="1202" y="501" width="3" height="1" fill="#000000"/>
<rect x="1202" y="509" width="3" height="1" fill="#000000"/>
<rect x="1202" y="517" width="7" height="1" fill="#000000"/>
<rect x="1202" y="525" width="3" height="1" fill="#000000"/>
<rect x="1202" y="533" width="3" height="1" fill="#000000"/>
<rect x="1202" y="541" width="3" height="1" fill="#000000"/>
<rect x="1202" y="549" width="3" height="1" fill="#000000"/>
<rect x="1202" y="557" width="7" height="1" fill="#000000"/>
<rect x="1202" y="565" width="3" height="1" fill="#000000"/>
<rect x="1202" y="573" width="3" height="1" fill="#000000"/>
<rect x="1202" y="582" width="3" height="1" fill="#000000"/>
<rect x="1202" y="590" width="3" height="1" fill="#000000"/>
<rect x="1202" y="598" width="7" height="1" fill="#000000"/>
<rect x="1202" y="606" width="3" height="1" fill="#000000"/>
<rect x="1202" y="614" width="3" height="1" fill="#000000"/>
<rect x="1202" y="622" width="3" height="1" fill="#000000"/>
<rect x="1202" y="630" width="3" height="1" fill="#000000"/>
<rect x="1202" y="638" width="7" height="1" fill="#000000"/>
<rect x="1202" y="646" width="3" height="1" fill="#000000"/>
<rect x="1202" y="654" width="3" height="1" fill="#000000"/>
<rect x="1202" y="663" width="3" height="1" fill="#000000"/>
<rect x="1202" y="671" width="3" height="1" fill="#000000"/>
<rect x="1202" y="679" width="7" height="1" fill="#000000"/>
<rect x="1202" y="687" width="3" height="1" fill="#000000"/>
<rect x="1202" y="695" width="3" height="1" fill="#000000"/>
<rect x="1202" y="703" width="3" height="1" fill="#000000"/>
<rect x="1202" y="711" width="3" height="1" fill="#000000"/>
<rect x="1202" y="718" width="7" height="1" fill="#000000"/>
<rect x="1202" y="147" width="3" height="1" fill="#000000"/>
<rect x="1202" y="139" width="3" height="1" fill="#000000"/>
<rect x="1202" y="131" width="3" height="1" fill="#000000"/>
<rect x="1202" y="123" width="3" height="1" fill="#000000"/>
<rect x="1202" y="115" width="3" height="1" fill="#000000"/>
<rect x="1202" y="107" width="3" height="1" fill="#000000"/>
<rect x="1202" y="99" width="3" height="1" fill="#000000"/>
<rect x="1202" y="91" width="3" height="1" fill="#000000"/>
<rect x="1202" y="726" width="3" height="1" fill="#000000"/>
<rect x="1202" y="866" width="3" height="1" fill="#000000"/>
<rect x="1202" y="860" width="7" height="1" fill="#000000"/>
<rect x="1202" y="854" width="3" height="1" fill="#000000"/>
<rect x="1202" y="847" width="3" height="1" fill="#000000"/>
<rect x="1202" y="841" width="3" height="1" fill="#000000"/>
<rect x="1202" y="834" width="3" height="1" fill="#000000"/>
<rect x="1202" y="828" width="7" height="1" fill="#000000"/>
<rect x="1202" y="822" width="3" height="1" fill="#000000"/>
<rect x="1202" y="815" width="3" height="1" fill="#000000"/>
<rect x="1202" y="809" width="3" height="1" fill="#000000"/>
<rect x="1202" y="802" width="3" height="1" fill="#000000"/>
<rect x="1202" y="796" width="7" height="1" fill="#000000"/>
<rect x="1202" y="790" width="3" height="1" fill="#000000"/>
<rect x="1202" y="783" width="3" height="1" fill="#000000"/>
<rect x="1202" y="777" width="3" height="1" fill="#000000"/>
<rect x="1202" y="771" width="3" height="1" fill="#000000"/>
<rect x="1202" y="764" width="7" height="1" fill="#000000"/>
<rect x="1202" y="758" width="3" height="1" fill="#000000"/>
<rect x="1202" y="751" width="3" height="1" fill="#000000"/>
<rect x="1202" y="745" width="3" height="1" fill="#000000"/>
<rect x="1202" y="739" width="3" height="1" fill="#000000"/>
<rect x="1203" y="872" width="28" height="1" fill="#000000"/>
<rect x="1203" y="872" width="1" height="12" fill="#000000"/>
<rect x="1230" y="872" width="1" height="12" fill="#000000"/>
<rect x="32" y="884" width="1" height="20" fill="#000000"/>
<rect x="70" y="884" width="1" height="20" fill="#000000"/>
<rect x="107" y="884" width="1" height="20" fill="#000000"/>
<rect x="144" y="884" width="1" height="20" fill="#000000"/>
<rect x="182" y="884" width="1" height="20" fill="#000000"/>
<rect x="218" y="884" width="1" height="20" fill="#000000"/>
<rect x="256" y="884" width="1" height="20" fill="#000000"/>
<rect x="293" y="884" width="1" height="20" fill="#000000"/>
<rect x="331" y="884" width="1" height="20" fill="#000000"/>
<rect x="368" y="884" width="1" height="20" fill="#000000"/>
<rect x="405" y="884" width="1" height="20" fill="#000000"/>
<rect x="443" y="884" width="1" height="20" fill="#000000"/>
<rect x="479" y="884" width="1" height="20" fill="#000000"/>
<rect x="517" y="884" width="1" height="20" fill="#000000"/>
<rect x="554" y="884" width="1" height="20" fill="#000000"/>
<rect x="592" y="884" width="1" height="20" fill="#000000"/>
<rect x="629" y="884" width="1" height="20" fill="#000000"/>
<rect x="666" y="884" width="1" height="20" fill="#000000"/>
<rect x="704" y="884" width="1" height="20" fill="#000000"/>
<rect x="741" y="884" width="1" height="20" fill="#000000"/>
<rect x="778" y="884" width="1" height="20" fill="#000000"/>
<rect x="815" y="884" width="1" height="20" fill="#000000"/>
<rect x="853" y="884" width="1" height="20" fill="#000000"/>
<rect x="890" y="884" width="1" height="20" fill="#000000"/>
<rect x="927" y="884" width="1" height="20" fill="#000000"/>
<rect x="965" y="884" width="1" height="20" fill="#000000"/>
<rect x="1002" y="884" width="1" height="20" fill="#000000"/>
<rect x="1039" y="884" width="1" height="20" fill="#000000"/>
<rect x="1076" y="884" width="1" height="20" fill="#000000"/>
<rect x="1099" y="884" width="1" height="20" fill="#000000"/>
<rect x="1128" y="884" width="1" height="20" fill="#000000"/>
<rect x="1166" y="884" width="1" height="20" fill="#000000"/>
<rect x="-5" y="884" width="1" height="38" fill="#000000"/>
<rect x="144" y="884" width="1" height="38" fill="#000000"/>
<rect x="316" y="884" width="1" height="38" fill="#000000"/>
<rect x="479" y="884" width="1" height="38" fill="#000000"/>
<rect x="636" y="884" width="1" height="38" fill="#000000"/>
<rect x="808" y="884" width="1" height="38" fill="#000000"/>
<rect x="965" y="884" width="1" height="38" fill="#000000"/>
<rect x="1114" y="884" width="1" height="38" fill="#000000"/>
</g>
<g stroke="#0000ff" fill="none" stroke-width="1.15"><circle cx="562.0" cy="409.7" r="11.25"/><path d="M555.4 410.9 Q556.5 416.7 562.0 416.7 Q567.5 416.7 568.6 410.9" stroke-width="1.05"/><ellipse cx="558.2" cy="406.2" rx="1.9" ry="2.1" fill="#0000ff" stroke="none"/><ellipse cx="565.7" cy="406.2" rx="1.9" ry="2.1" fill="#0000ff" stroke="none"/></g><g stroke="#0000ff" fill="none" stroke-width="1.15"><circle cx="995.0" cy="251.6" r="11.25"/><path d="M988.4 252.79999999999998 Q989.5 258.6 995.0 258.6 Q1000.5 258.6 1001.6 252.79999999999998" stroke-width="1.05"/><ellipse cx="991.2" cy="248.1" rx="1.9" ry="2.1" fill="#0000ff" stroke="none"/><ellipse cx="998.7" cy="248.1" rx="1.9" ry="2.1" fill="#0000ff" stroke="none"/></g>
<g>
<text transform="translate(1246.2 21) scale(0.85 1)" font-size="14.5" font-weight="bold" text-anchor="end" >70</text>
<text transform="translate(1246.2 40) scale(0.85 1)" font-size="14.5" font-weight="bold" text-anchor="end" >60</text>
<text transform="translate(1246.2 61) scale(0.85 1)" font-size="14.5" font-weight="bold" text-anchor="end" >50</text>
<text transform="translate(1246.2 80) scale(0.85 1)" font-size="14.5" font-weight="bold" text-anchor="end" >40</text>
<text transform="translate(1246.0 161.6) scale(0.9 1)" font-size="17" font-weight="bold" text-anchor="end" >3.90</text>
<text transform="translate(1246.0 203.2) scale(0.9 1)" font-size="17" font-weight="bold" text-anchor="end" >3.85</text>
<text transform="translate(1246.0 243.2) scale(0.9 1)" font-size="17" font-weight="bold" text-anchor="end" >3.80</text>
<text transform="translate(1246.0 283.6) scale(0.9 1)" font-size="17" font-weight="bold" text-anchor="end" >3.75</text>
<text transform="translate(1246.0 323.2) scale(0.9 1)" font-size="17" font-weight="bold" text-anchor="end" >3.70</text>
<text transform="translate(1246.0 364.1) scale(0.9 1)" font-size="17" font-weight="bold" text-anchor="end" >3.65</text>
<text transform="translate(1246.0 404.4) scale(0.9 1)" font-size="17" font-weight="bold" text-anchor="end" >3.60</text>
<text transform="translate(1246.0 444.4) scale(0.9 1)" font-size="17" font-weight="bold" text-anchor="end" >3.55</text>
<text transform="translate(1246.0 484.5) scale(0.9 1)" font-size="17" font-weight="bold" text-anchor="end" >3.50</text>
<text transform="translate(1246.0 524.4) scale(0.9 1)" font-size="17" font-weight="bold" text-anchor="end" >3.45</text>
<text transform="translate(1246.0 564.7) scale(0.9 1)" font-size="17" font-weight="bold" text-anchor="end" >3.40</text>
<text transform="translate(1246.0 605.2) scale(0.9 1)" font-size="17" font-weight="bold" text-anchor="end" >3.35</text>
<text transform="translate(1246.0 645.2) scale(0.9 1)" font-size="17" font-weight="bold" text-anchor="end" >3.30</text>
<text transform="translate(1246.0 685.9) scale(0.9 1)" font-size="17" font-weight="bold" text-anchor="end" >3.25</text>
<text transform="translate(1246.0 725.7) scale(0.9 1)" font-size="17" font-weight="bold" text-anchor="end" >3.20</text>
<text transform="translate(1246 769.9) scale(0.98 1)" font-size="12.6" font-weight="normal" text-anchor="end" >20000</text>
<text transform="translate(1246 801.9) scale(0.98 1)" font-size="12.6" font-weight="normal" text-anchor="end" >15000</text>
<text transform="translate(1246 833.8) scale(0.98 1)" font-size="12.6" font-weight="normal" text-anchor="end" >10000</text>
<text transform="translate(1246 865.8) scale(0.98 1)" font-size="12.6" font-weight="normal" text-anchor="end" >5000</text>
<text transform="translate(1204.9 881.9) scale(0.96 1)" font-size="9.3" font-weight="normal" text-anchor="start" >x1000</text>
<text transform="translate(600.3 14.9) scale(0.95 1)" font-size="13.5" font-weight="bold" text-anchor="middle" >Relative Strength Index (60.3018)</text>
<text transform="translate(600.6 105.6) scale(0.902 1)" font-size="17" font-weight="bold" text-anchor="middle" >1 EDP (3.86100, 3.87400, 3.83800, 3.84600, -0.01800)</text>
<text transform="translate(34.2 900.4) scale(0.9 1)" font-size="17" font-weight="bold" text-anchor="start" >10</text>
<text transform="translate(72.2 900.4) scale(0.9 1)" font-size="17" font-weight="bold" text-anchor="start" >17</text>
<text transform="translate(109.2 900.4) scale(0.9 1)" font-size="17" font-weight="bold" text-anchor="start" >24</text>
<text transform="translate(146.2 900.4) scale(0.9 1)" font-size="17" font-weight="bold" text-anchor="start" >1</text>
<text transform="translate(184.2 900.4) scale(0.9 1)" font-size="17" font-weight="bold" text-anchor="start" >8</text>
<text transform="translate(220.2 900.4) scale(0.9 1)" font-size="17" font-weight="bold" text-anchor="start" >15</text>
<text transform="translate(258.2 900.4) scale(0.9 1)" font-size="17" font-weight="bold" text-anchor="start" >22</text>
<text transform="translate(295.2 900.4) scale(0.9 1)" font-size="17" font-weight="bold" text-anchor="start" >29</text>
<text transform="translate(333.2 900.4) scale(0.9 1)" font-size="17" font-weight="bold" text-anchor="start" >5</text>
<text transform="translate(370.2 900.4) scale(0.9 1)" font-size="17" font-weight="bold" text-anchor="start" >12</text>
<text transform="translate(407.2 900.4) scale(0.9 1)" font-size="17" font-weight="bold" text-anchor="start" >19</text>
<text transform="translate(445.2 900.4) scale(0.9 1)" font-size="17" font-weight="bold" text-anchor="start" >26</text>
<text transform="translate(481.2 900.4) scale(0.9 1)" font-size="17" font-weight="bold" text-anchor="start" >2</text>
<text transform="translate(519.2 900.4) scale(0.9 1)" font-size="17" font-weight="bold" text-anchor="start" >9</text>
<text transform="translate(556.2 900.4) scale(0.9 1)" font-size="17" font-weight="bold" text-anchor="start" >16</text>
<text transform="translate(594.2 900.4) scale(0.9 1)" font-size="17" font-weight="bold" text-anchor="start" >23</text>
<text transform="translate(631.2 900.4) scale(0.9 1)" font-size="17" font-weight="bold" text-anchor="start" >30</text>
<text transform="translate(668.2 900.4) scale(0.9 1)" font-size="17" font-weight="bold" text-anchor="start" >7</text>
<text transform="translate(706.2 900.4) scale(0.9 1)" font-size="17" font-weight="bold" text-anchor="start" >14</text>
<text transform="translate(743.2 900.4) scale(0.9 1)" font-size="17" font-weight="bold" text-anchor="start" >21</text>
<text transform="translate(780.2 900.4) scale(0.9 1)" font-size="17" font-weight="bold" text-anchor="start" >28</text>
<text transform="translate(817.2 900.4) scale(0.9 1)" font-size="17" font-weight="bold" text-anchor="start" >4</text>
<text transform="translate(855.2 900.4) scale(0.9 1)" font-size="17" font-weight="bold" text-anchor="start" >11</text>
<text transform="translate(892.2 900.4) scale(0.9 1)" font-size="17" font-weight="bold" text-anchor="start" >18</text>
<text transform="translate(929.2 900.4) scale(0.9 1)" font-size="17" font-weight="bold" text-anchor="start" >25</text>
<text transform="translate(967.2 900.4) scale(0.9 1)" font-size="17" font-weight="bold" text-anchor="start" >2</text>
<text transform="translate(1004.2 900.4) scale(0.9 1)" font-size="17" font-weight="bold" text-anchor="start" >9</text>
<text transform="translate(1041.2 900.4) scale(0.9 1)" font-size="17" font-weight="bold" text-anchor="start" >16</text>
<text transform="translate(1078.2 900.4) scale(0.9 1)" font-size="17" font-weight="bold" text-anchor="start" >23</text>
<text transform="translate(1130.2 900.4) scale(0.9 1)" font-size="17" font-weight="bold" text-anchor="start" >6</text>
<text transform="translate(1168.2 900.4) scale(0.9 1)" font-size="17" font-weight="bold" text-anchor="start" >13</text>
<text transform="translate(-2.8 900.4) scale(0.9 1)" font-size="17" font-weight="bold" text-anchor="start" >3</text>
<text transform="translate(-2.5 919.8) scale(0.9 1)" font-size="17" font-weight="bold" text-anchor="start" >June</text>
<text transform="translate(146.5 919.8) scale(0.9 1)" font-size="17" font-weight="bold" text-anchor="start" >July</text>
<text transform="translate(318.5 919.8) scale(0.9 1)" font-size="17" font-weight="bold" text-anchor="start" >August</text>
<text transform="translate(481.5 919.8) scale(0.9 1)" font-size="17" font-weight="bold" text-anchor="start" >September</text>
<text transform="translate(638.5 919.8) scale(0.9 1)" font-size="17" font-weight="bold" text-anchor="start" >October</text>
<text transform="translate(810.5 919.8) scale(0.9 1)" font-size="17" font-weight="bold" text-anchor="start" >November</text>
<text transform="translate(967.5 919.8) scale(0.9 1)" font-size="17" font-weight="bold" text-anchor="start" >December</text>
<text transform="translate(1116.5 919.8) scale(0.9 1)" font-size="17" font-weight="bold" text-anchor="start" >2020</text>
</g>
</svg>
</body></html>
